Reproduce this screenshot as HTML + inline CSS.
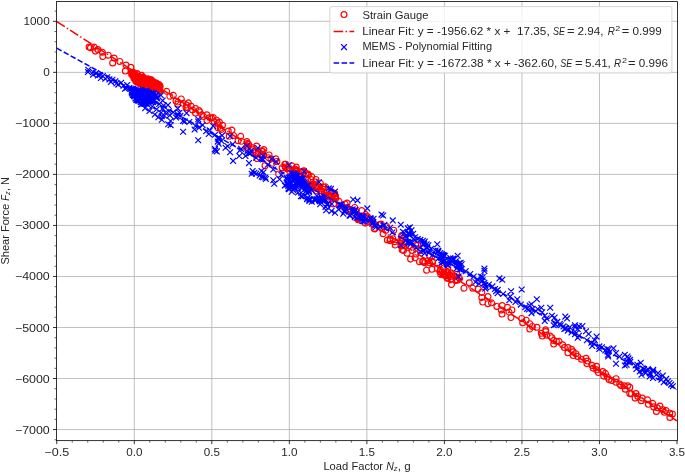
<!DOCTYPE html><html><head><meta charset="utf-8"><style>html,body{margin:0;padding:0;background:#fff;width:685px;height:473px;overflow:hidden}svg{display:block;will-change:transform}text{font-family:"Liberation Sans",sans-serif;fill:#262626;white-space:pre}</style></head><body>
<svg width="685" height="473" viewBox="0 0 685 473">
<g stroke="#b0b0b0" stroke-width="0.8">
<line x1="134.27" y1="1.6" x2="134.27" y2="440.65"/>
<line x1="211.81" y1="1.6" x2="211.81" y2="440.65"/>
<line x1="289.34" y1="1.6" x2="289.34" y2="440.65"/>
<line x1="366.88" y1="1.6" x2="366.88" y2="440.65"/>
<line x1="444.41" y1="1.6" x2="444.41" y2="440.65"/>
<line x1="521.94" y1="1.6" x2="521.94" y2="440.65"/>
<line x1="599.48" y1="1.6" x2="599.48" y2="440.65"/>
<line x1="56.5" y1="21.32" x2="677.4" y2="21.32"/>
<line x1="56.5" y1="72.35" x2="677.4" y2="72.35"/>
<line x1="56.5" y1="123.38" x2="677.4" y2="123.38"/>
<line x1="56.5" y1="174.41" x2="677.4" y2="174.41"/>
<line x1="56.5" y1="225.44" x2="677.4" y2="225.44"/>
<line x1="56.5" y1="276.47" x2="677.4" y2="276.47"/>
<line x1="56.5" y1="327.50" x2="677.4" y2="327.50"/>
<line x1="56.5" y1="378.53" x2="677.4" y2="378.53"/>
<line x1="56.5" y1="429.56" x2="677.4" y2="429.56"/>
</g>
<defs><clipPath id="ax"><rect x="56.5" y="1.5" width="620.5" height="439"/></clipPath></defs><g clip-path="url(#ax)">
<path d="M92.05 47.00a2.95 2.95 0 1 0 -5.9 0a2.95 2.95 0 1 0 5.9 0M93.45 47.80a2.95 2.95 0 1 0 -5.9 0a2.95 2.95 0 1 0 5.9 0M97.15 47.00a2.95 2.95 0 1 0 -5.9 0a2.95 2.95 0 1 0 5.9 0M98.35 51.10a2.95 2.95 0 1 0 -5.9 0a2.95 2.95 0 1 0 5.9 0M100.85 49.60a2.95 2.95 0 1 0 -5.9 0a2.95 2.95 0 1 0 5.9 0M105.35 52.20a2.95 2.95 0 1 0 -5.9 0a2.95 2.95 0 1 0 5.9 0M105.75 56.60a2.95 2.95 0 1 0 -5.9 0a2.95 2.95 0 1 0 5.9 0M111.25 55.20a2.95 2.95 0 1 0 -5.9 0a2.95 2.95 0 1 0 5.9 0M117.15 58.10a2.95 2.95 0 1 0 -5.9 0a2.95 2.95 0 1 0 5.9 0M115.65 62.90a2.95 2.95 0 1 0 -5.9 0a2.95 2.95 0 1 0 5.9 0M122.75 61.40a2.95 2.95 0 1 0 -5.9 0a2.95 2.95 0 1 0 5.9 0M128.95 65.10a2.95 2.95 0 1 0 -5.9 0a2.95 2.95 0 1 0 5.9 0M128.25 71.00a2.95 2.95 0 1 0 -5.9 0a2.95 2.95 0 1 0 5.9 0M133.85 67.40a2.95 2.95 0 1 0 -5.9 0a2.95 2.95 0 1 0 5.9 0M169.65 91.30a2.95 2.95 0 1 0 -5.9 0a2.95 2.95 0 1 0 5.9 0M172.75 96.20a2.95 2.95 0 1 0 -5.9 0a2.95 2.95 0 1 0 5.9 0M176.25 95.30a2.95 2.95 0 1 0 -5.9 0a2.95 2.95 0 1 0 5.9 0M178.95 101.10a2.95 2.95 0 1 0 -5.9 0a2.95 2.95 0 1 0 5.9 0M180.65 104.20a2.95 2.95 0 1 0 -5.9 0a2.95 2.95 0 1 0 5.9 0M184.25 98.90a2.95 2.95 0 1 0 -5.9 0a2.95 2.95 0 1 0 5.9 0M186.05 103.30a2.95 2.95 0 1 0 -5.9 0a2.95 2.95 0 1 0 5.9 0M189.55 105.10a2.95 2.95 0 1 0 -5.9 0a2.95 2.95 0 1 0 5.9 0M191.35 102.90a2.95 2.95 0 1 0 -5.9 0a2.95 2.95 0 1 0 5.9 0M190.45 107.70a2.95 2.95 0 1 0 -5.9 0a2.95 2.95 0 1 0 5.9 0M198.45 108.60a2.95 2.95 0 1 0 -5.9 0a2.95 2.95 0 1 0 5.9 0M198.45 113.10a2.95 2.95 0 1 0 -5.9 0a2.95 2.95 0 1 0 5.9 0M201.95 110.40a2.95 2.95 0 1 0 -5.9 0a2.95 2.95 0 1 0 5.9 0M204.65 114.80a2.95 2.95 0 1 0 -5.9 0a2.95 2.95 0 1 0 5.9 0M209.95 114.80a2.95 2.95 0 1 0 -5.9 0a2.95 2.95 0 1 0 5.9 0M212.65 117.50a2.95 2.95 0 1 0 -5.9 0a2.95 2.95 0 1 0 5.9 0M216.15 117.50a2.95 2.95 0 1 0 -5.9 0a2.95 2.95 0 1 0 5.9 0M219.75 120.20a2.95 2.95 0 1 0 -5.9 0a2.95 2.95 0 1 0 5.9 0M209.95 120.60a2.95 2.95 0 1 0 -5.9 0a2.95 2.95 0 1 0 5.9 0M214.45 118.00a2.95 2.95 0 1 0 -5.9 0a2.95 2.95 0 1 0 5.9 0M217.05 121.60a2.95 2.95 0 1 0 -5.9 0a2.95 2.95 0 1 0 5.9 0M220.65 127.70a2.95 2.95 0 1 0 -5.9 0a2.95 2.95 0 1 0 5.9 0M222.35 122.10a2.95 2.95 0 1 0 -5.9 0a2.95 2.95 0 1 0 5.9 0M225.45 125.20a2.95 2.95 0 1 0 -5.9 0a2.95 2.95 0 1 0 5.9 0M223.25 128.30a2.95 2.95 0 1 0 -5.9 0a2.95 2.95 0 1 0 5.9 0M231.25 131.00a2.95 2.95 0 1 0 -5.9 0a2.95 2.95 0 1 0 5.9 0M234.85 130.10a2.95 2.95 0 1 0 -5.9 0a2.95 2.95 0 1 0 5.9 0M232.15 136.30a2.95 2.95 0 1 0 -5.9 0a2.95 2.95 0 1 0 5.9 0M236.55 135.40a2.95 2.95 0 1 0 -5.9 0a2.95 2.95 0 1 0 5.9 0M243.65 136.30a2.95 2.95 0 1 0 -5.9 0a2.95 2.95 0 1 0 5.9 0M241.05 140.70a2.95 2.95 0 1 0 -5.9 0a2.95 2.95 0 1 0 5.9 0M249.85 141.60a2.95 2.95 0 1 0 -5.9 0a2.95 2.95 0 1 0 5.9 0M251.65 144.30a2.95 2.95 0 1 0 -5.9 0a2.95 2.95 0 1 0 5.9 0M249.05 147.80a2.95 2.95 0 1 0 -5.9 0a2.95 2.95 0 1 0 5.9 0M255.25 147.80a2.95 2.95 0 1 0 -5.9 0a2.95 2.95 0 1 0 5.9 0M259.65 146.10a2.95 2.95 0 1 0 -5.9 0a2.95 2.95 0 1 0 5.9 0M258.75 152.30a2.95 2.95 0 1 0 -5.9 0a2.95 2.95 0 1 0 5.9 0M265.85 151.40a2.95 2.95 0 1 0 -5.9 0a2.95 2.95 0 1 0 5.9 0M264.95 154.00a2.95 2.95 0 1 0 -5.9 0a2.95 2.95 0 1 0 5.9 0M272.05 154.90a2.95 2.95 0 1 0 -5.9 0a2.95 2.95 0 1 0 5.9 0M250.25 143.50a2.95 2.95 0 1 0 -5.9 0a2.95 2.95 0 1 0 5.9 0M257.35 151.50a2.95 2.95 0 1 0 -5.9 0a2.95 2.95 0 1 0 5.9 0M260.85 154.20a2.95 2.95 0 1 0 -5.9 0a2.95 2.95 0 1 0 5.9 0M259.95 158.60a2.95 2.95 0 1 0 -5.9 0a2.95 2.95 0 1 0 5.9 0M266.15 155.10a2.95 2.95 0 1 0 -5.9 0a2.95 2.95 0 1 0 5.9 0M267.95 165.70a2.95 2.95 0 1 0 -5.9 0a2.95 2.95 0 1 0 5.9 0M271.55 157.70a2.95 2.95 0 1 0 -5.9 0a2.95 2.95 0 1 0 5.9 0M278.95 158.90a2.95 2.95 0 1 0 -5.9 0a2.95 2.95 0 1 0 5.9 0M281.55 174.00a2.95 2.95 0 1 0 -5.9 0a2.95 2.95 0 1 0 5.9 0M288.65 164.20a2.95 2.95 0 1 0 -5.9 0a2.95 2.95 0 1 0 5.9 0M285.15 167.70a2.95 2.95 0 1 0 -5.9 0a2.95 2.95 0 1 0 5.9 0M275.35 163.30a2.95 2.95 0 1 0 -5.9 0a2.95 2.95 0 1 0 5.9 0M195.55 110.00a2.95 2.95 0 1 0 -5.9 0a2.95 2.95 0 1 0 5.9 0M202.95 112.00a2.95 2.95 0 1 0 -5.9 0a2.95 2.95 0 1 0 5.9 0M206.45 116.50a2.95 2.95 0 1 0 -5.9 0a2.95 2.95 0 1 0 5.9 0M180.95 102.00a2.95 2.95 0 1 0 -5.9 0a2.95 2.95 0 1 0 5.9 0M188.95 107.50a2.95 2.95 0 1 0 -5.9 0a2.95 2.95 0 1 0 5.9 0M193.95 106.00a2.95 2.95 0 1 0 -5.9 0a2.95 2.95 0 1 0 5.9 0M220.75 123.60a2.95 2.95 0 1 0 -5.9 0a2.95 2.95 0 1 0 5.9 0M224.25 129.50a2.95 2.95 0 1 0 -5.9 0a2.95 2.95 0 1 0 5.9 0M244.35 141.30a2.95 2.95 0 1 0 -5.9 0a2.95 2.95 0 1 0 5.9 0M250.25 146.00a2.95 2.95 0 1 0 -5.9 0a2.95 2.95 0 1 0 5.9 0M256.25 149.60a2.95 2.95 0 1 0 -5.9 0a2.95 2.95 0 1 0 5.9 0M264.45 150.80a2.95 2.95 0 1 0 -5.9 0a2.95 2.95 0 1 0 5.9 0M266.85 149.60a2.95 2.95 0 1 0 -5.9 0a2.95 2.95 0 1 0 5.9 0M273.95 159.10a2.95 2.95 0 1 0 -5.9 0a2.95 2.95 0 1 0 5.9 0M279.85 161.40a2.95 2.95 0 1 0 -5.9 0a2.95 2.95 0 1 0 5.9 0M334.75 196.00a2.95 2.95 0 1 0 -5.9 0a2.95 2.95 0 1 0 5.9 0M338.25 198.60a2.95 2.95 0 1 0 -5.9 0a2.95 2.95 0 1 0 5.9 0M336.45 204.00a2.95 2.95 0 1 0 -5.9 0a2.95 2.95 0 1 0 5.9 0M341.85 201.30a2.95 2.95 0 1 0 -5.9 0a2.95 2.95 0 1 0 5.9 0M348.05 204.00a2.95 2.95 0 1 0 -5.9 0a2.95 2.95 0 1 0 5.9 0M349.85 207.50a2.95 2.95 0 1 0 -5.9 0a2.95 2.95 0 1 0 5.9 0M353.35 209.30a2.95 2.95 0 1 0 -5.9 0a2.95 2.95 0 1 0 5.9 0M357.75 207.50a2.95 2.95 0 1 0 -5.9 0a2.95 2.95 0 1 0 5.9 0M358.65 211.10a2.95 2.95 0 1 0 -5.9 0a2.95 2.95 0 1 0 5.9 0M360.45 215.50a2.95 2.95 0 1 0 -5.9 0a2.95 2.95 0 1 0 5.9 0M370.25 216.40a2.95 2.95 0 1 0 -5.9 0a2.95 2.95 0 1 0 5.9 0M371.95 219.00a2.95 2.95 0 1 0 -5.9 0a2.95 2.95 0 1 0 5.9 0M364.05 220.80a2.95 2.95 0 1 0 -5.9 0a2.95 2.95 0 1 0 5.9 0M375.55 220.80a2.95 2.95 0 1 0 -5.9 0a2.95 2.95 0 1 0 5.9 0M377.15 228.40a2.95 2.95 0 1 0 -5.9 0a2.95 2.95 0 1 0 5.9 0M384.25 224.00a2.95 2.95 0 1 0 -5.9 0a2.95 2.95 0 1 0 5.9 0M386.05 233.70a2.95 2.95 0 1 0 -5.9 0a2.95 2.95 0 1 0 5.9 0M389.55 226.60a2.95 2.95 0 1 0 -5.9 0a2.95 2.95 0 1 0 5.9 0M396.65 230.20a2.95 2.95 0 1 0 -5.9 0a2.95 2.95 0 1 0 5.9 0M404.65 235.50a2.95 2.95 0 1 0 -5.9 0a2.95 2.95 0 1 0 5.9 0M393.15 239.00a2.95 2.95 0 1 0 -5.9 0a2.95 2.95 0 1 0 5.9 0M364.75 210.60a2.95 2.95 0 1 0 -5.9 0a2.95 2.95 0 1 0 5.9 0M368.25 223.10a2.95 2.95 0 1 0 -5.9 0a2.95 2.95 0 1 0 5.9 0M404.75 241.60a2.95 2.95 0 1 0 -5.9 0a2.95 2.95 0 1 0 5.9 0M406.45 250.50a2.95 2.95 0 1 0 -5.9 0a2.95 2.95 0 1 0 5.9 0M410.05 253.20a2.95 2.95 0 1 0 -5.9 0a2.95 2.95 0 1 0 5.9 0M411.85 246.10a2.95 2.95 0 1 0 -5.9 0a2.95 2.95 0 1 0 5.9 0M415.35 250.50a2.95 2.95 0 1 0 -5.9 0a2.95 2.95 0 1 0 5.9 0M418.95 254.00a2.95 2.95 0 1 0 -5.9 0a2.95 2.95 0 1 0 5.9 0M413.55 259.10a2.95 2.95 0 1 0 -5.9 0a2.95 2.95 0 1 0 5.9 0M418.05 257.70a2.95 2.95 0 1 0 -5.9 0a2.95 2.95 0 1 0 5.9 0M422.45 261.70a2.95 2.95 0 1 0 -5.9 0a2.95 2.95 0 1 0 5.9 0M429.55 270.20a2.95 2.95 0 1 0 -5.9 0a2.95 2.95 0 1 0 5.9 0M434.85 269.30a2.95 2.95 0 1 0 -5.9 0a2.95 2.95 0 1 0 5.9 0M440.25 268.40a2.95 2.95 0 1 0 -5.9 0a2.95 2.95 0 1 0 5.9 0M445.55 274.60a2.95 2.95 0 1 0 -5.9 0a2.95 2.95 0 1 0 5.9 0M426.05 261.30a2.95 2.95 0 1 0 -5.9 0a2.95 2.95 0 1 0 5.9 0M431.35 264.80a2.95 2.95 0 1 0 -5.9 0a2.95 2.95 0 1 0 5.9 0M454.45 284.60a2.95 2.95 0 1 0 -5.9 0a2.95 2.95 0 1 0 5.9 0M466.95 288.20a2.95 2.95 0 1 0 -5.9 0a2.95 2.95 0 1 0 5.9 0M472.25 282.80a2.95 2.95 0 1 0 -5.9 0a2.95 2.95 0 1 0 5.9 0M475.75 288.20a2.95 2.95 0 1 0 -5.9 0a2.95 2.95 0 1 0 5.9 0M481.15 289.00a2.95 2.95 0 1 0 -5.9 0a2.95 2.95 0 1 0 5.9 0M484.75 292.20a2.95 2.95 0 1 0 -5.9 0a2.95 2.95 0 1 0 5.9 0M484.75 297.50a2.95 2.95 0 1 0 -5.9 0a2.95 2.95 0 1 0 5.9 0M485.65 302.00a2.95 2.95 0 1 0 -5.9 0a2.95 2.95 0 1 0 5.9 0M490.95 296.60a2.95 2.95 0 1 0 -5.9 0a2.95 2.95 0 1 0 5.9 0M490.95 303.70a2.95 2.95 0 1 0 -5.9 0a2.95 2.95 0 1 0 5.9 0M494.45 302.80a2.95 2.95 0 1 0 -5.9 0a2.95 2.95 0 1 0 5.9 0M499.85 306.40a2.95 2.95 0 1 0 -5.9 0a2.95 2.95 0 1 0 5.9 0M505.15 305.50a2.95 2.95 0 1 0 -5.9 0a2.95 2.95 0 1 0 5.9 0M510.45 307.30a2.95 2.95 0 1 0 -5.9 0a2.95 2.95 0 1 0 5.9 0M514.85 309.90a2.95 2.95 0 1 0 -5.9 0a2.95 2.95 0 1 0 5.9 0M504.25 309.90a2.95 2.95 0 1 0 -5.9 0a2.95 2.95 0 1 0 5.9 0M504.95 314.00a2.95 2.95 0 1 0 -5.9 0a2.95 2.95 0 1 0 5.9 0M513.95 317.50a2.95 2.95 0 1 0 -5.9 0a2.95 2.95 0 1 0 5.9 0M511.95 312.00a2.95 2.95 0 1 0 -5.9 0a2.95 2.95 0 1 0 5.9 0M524.75 318.40a2.95 2.95 0 1 0 -5.9 0a2.95 2.95 0 1 0 5.9 0M525.65 322.80a2.95 2.95 0 1 0 -5.9 0a2.95 2.95 0 1 0 5.9 0M529.15 320.20a2.95 2.95 0 1 0 -5.9 0a2.95 2.95 0 1 0 5.9 0M532.75 323.70a2.95 2.95 0 1 0 -5.9 0a2.95 2.95 0 1 0 5.9 0M535.35 326.40a2.95 2.95 0 1 0 -5.9 0a2.95 2.95 0 1 0 5.9 0M539.85 327.30a2.95 2.95 0 1 0 -5.9 0a2.95 2.95 0 1 0 5.9 0M548.65 329.90a2.95 2.95 0 1 0 -5.9 0a2.95 2.95 0 1 0 5.9 0M532.75 329.00a2.95 2.95 0 1 0 -5.9 0a2.95 2.95 0 1 0 5.9 0M544.25 333.30a2.95 2.95 0 1 0 -5.9 0a2.95 2.95 0 1 0 5.9 0M545.15 336.00a2.95 2.95 0 1 0 -5.9 0a2.95 2.95 0 1 0 5.9 0M548.65 331.50a2.95 2.95 0 1 0 -5.9 0a2.95 2.95 0 1 0 5.9 0M549.55 335.10a2.95 2.95 0 1 0 -5.9 0a2.95 2.95 0 1 0 5.9 0M553.15 336.00a2.95 2.95 0 1 0 -5.9 0a2.95 2.95 0 1 0 5.9 0M554.85 337.70a2.95 2.95 0 1 0 -5.9 0a2.95 2.95 0 1 0 5.9 0M556.65 344.00a2.95 2.95 0 1 0 -5.9 0a2.95 2.95 0 1 0 5.9 0M559.35 341.30a2.95 2.95 0 1 0 -5.9 0a2.95 2.95 0 1 0 5.9 0M561.95 341.30a2.95 2.95 0 1 0 -5.9 0a2.95 2.95 0 1 0 5.9 0M565.55 344.80a2.95 2.95 0 1 0 -5.9 0a2.95 2.95 0 1 0 5.9 0M567.35 347.50a2.95 2.95 0 1 0 -5.9 0a2.95 2.95 0 1 0 5.9 0M570.85 352.80a2.95 2.95 0 1 0 -5.9 0a2.95 2.95 0 1 0 5.9 0M570.85 347.50a2.95 2.95 0 1 0 -5.9 0a2.95 2.95 0 1 0 5.9 0M574.45 349.30a2.95 2.95 0 1 0 -5.9 0a2.95 2.95 0 1 0 5.9 0M576.15 351.90a2.95 2.95 0 1 0 -5.9 0a2.95 2.95 0 1 0 5.9 0M578.85 353.70a2.95 2.95 0 1 0 -5.9 0a2.95 2.95 0 1 0 5.9 0M580.65 356.40a2.95 2.95 0 1 0 -5.9 0a2.95 2.95 0 1 0 5.9 0M576.15 355.50a2.95 2.95 0 1 0 -5.9 0a2.95 2.95 0 1 0 5.9 0M556.65 340.40a2.95 2.95 0 1 0 -5.9 0a2.95 2.95 0 1 0 5.9 0M584.45 359.20a2.95 2.95 0 1 0 -5.9 0a2.95 2.95 0 1 0 5.9 0M588.95 358.30a2.95 2.95 0 1 0 -5.9 0a2.95 2.95 0 1 0 5.9 0M590.65 361.00a2.95 2.95 0 1 0 -5.9 0a2.95 2.95 0 1 0 5.9 0M589.85 363.60a2.95 2.95 0 1 0 -5.9 0a2.95 2.95 0 1 0 5.9 0M595.15 365.40a2.95 2.95 0 1 0 -5.9 0a2.95 2.95 0 1 0 5.9 0M596.05 368.10a2.95 2.95 0 1 0 -5.9 0a2.95 2.95 0 1 0 5.9 0M599.55 366.30a2.95 2.95 0 1 0 -5.9 0a2.95 2.95 0 1 0 5.9 0M599.55 369.80a2.95 2.95 0 1 0 -5.9 0a2.95 2.95 0 1 0 5.9 0M601.35 372.50a2.95 2.95 0 1 0 -5.9 0a2.95 2.95 0 1 0 5.9 0M605.75 371.60a2.95 2.95 0 1 0 -5.9 0a2.95 2.95 0 1 0 5.9 0M606.65 376.10a2.95 2.95 0 1 0 -5.9 0a2.95 2.95 0 1 0 5.9 0M608.45 373.40a2.95 2.95 0 1 0 -5.9 0a2.95 2.95 0 1 0 5.9 0M610.25 377.00a2.95 2.95 0 1 0 -5.9 0a2.95 2.95 0 1 0 5.9 0M611.95 379.60a2.95 2.95 0 1 0 -5.9 0a2.95 2.95 0 1 0 5.9 0M614.65 380.50a2.95 2.95 0 1 0 -5.9 0a2.95 2.95 0 1 0 5.9 0M619.05 378.70a2.95 2.95 0 1 0 -5.9 0a2.95 2.95 0 1 0 5.9 0M619.05 382.30a2.95 2.95 0 1 0 -5.9 0a2.95 2.95 0 1 0 5.9 0M622.65 384.00a2.95 2.95 0 1 0 -5.9 0a2.95 2.95 0 1 0 5.9 0M627.05 385.80a2.95 2.95 0 1 0 -5.9 0a2.95 2.95 0 1 0 5.9 0M630.65 385.80a2.95 2.95 0 1 0 -5.9 0a2.95 2.95 0 1 0 5.9 0M623.85 385.60a2.95 2.95 0 1 0 -5.9 0a2.95 2.95 0 1 0 5.9 0M628.25 389.20a2.95 2.95 0 1 0 -5.9 0a2.95 2.95 0 1 0 5.9 0M632.75 387.40a2.95 2.95 0 1 0 -5.9 0a2.95 2.95 0 1 0 5.9 0M632.75 393.60a2.95 2.95 0 1 0 -5.9 0a2.95 2.95 0 1 0 5.9 0M638.95 393.60a2.95 2.95 0 1 0 -5.9 0a2.95 2.95 0 1 0 5.9 0M640.65 396.30a2.95 2.95 0 1 0 -5.9 0a2.95 2.95 0 1 0 5.9 0M638.05 398.10a2.95 2.95 0 1 0 -5.9 0a2.95 2.95 0 1 0 5.9 0M644.25 400.70a2.95 2.95 0 1 0 -5.9 0a2.95 2.95 0 1 0 5.9 0M645.15 398.10a2.95 2.95 0 1 0 -5.9 0a2.95 2.95 0 1 0 5.9 0M650.45 399.80a2.95 2.95 0 1 0 -5.9 0a2.95 2.95 0 1 0 5.9 0M651.35 404.30a2.95 2.95 0 1 0 -5.9 0a2.95 2.95 0 1 0 5.9 0M655.75 403.40a2.95 2.95 0 1 0 -5.9 0a2.95 2.95 0 1 0 5.9 0M656.65 406.90a2.95 2.95 0 1 0 -5.9 0a2.95 2.95 0 1 0 5.9 0M660.25 407.80a2.95 2.95 0 1 0 -5.9 0a2.95 2.95 0 1 0 5.9 0M662.85 406.10a2.95 2.95 0 1 0 -5.9 0a2.95 2.95 0 1 0 5.9 0M659.35 411.40a2.95 2.95 0 1 0 -5.9 0a2.95 2.95 0 1 0 5.9 0M665.55 409.60a2.95 2.95 0 1 0 -5.9 0a2.95 2.95 0 1 0 5.9 0M667.35 412.30a2.95 2.95 0 1 0 -5.9 0a2.95 2.95 0 1 0 5.9 0M669.05 410.50a2.95 2.95 0 1 0 -5.9 0a2.95 2.95 0 1 0 5.9 0M672.65 413.20a2.95 2.95 0 1 0 -5.9 0a2.95 2.95 0 1 0 5.9 0M675.35 414.00a2.95 2.95 0 1 0 -5.9 0a2.95 2.95 0 1 0 5.9 0M672.85 417.40a2.95 2.95 0 1 0 -5.9 0a2.95 2.95 0 1 0 5.9 0M634.45 393.70a2.95 2.95 0 1 0 -5.9 0a2.95 2.95 0 1 0 5.9 0M143.30 79.47a2.95 2.95 0 1 0 -5.9 0a2.95 2.95 0 1 0 5.9 0M156.56 81.76a2.95 2.95 0 1 0 -5.9 0a2.95 2.95 0 1 0 5.9 0M143.05 80.07a2.95 2.95 0 1 0 -5.9 0a2.95 2.95 0 1 0 5.9 0M137.97 79.06a2.95 2.95 0 1 0 -5.9 0a2.95 2.95 0 1 0 5.9 0M140.05 76.25a2.95 2.95 0 1 0 -5.9 0a2.95 2.95 0 1 0 5.9 0M162.80 85.50a2.95 2.95 0 1 0 -5.9 0a2.95 2.95 0 1 0 5.9 0M152.65 86.53a2.95 2.95 0 1 0 -5.9 0a2.95 2.95 0 1 0 5.9 0M153.19 88.05a2.95 2.95 0 1 0 -5.9 0a2.95 2.95 0 1 0 5.9 0M149.28 86.06a2.95 2.95 0 1 0 -5.9 0a2.95 2.95 0 1 0 5.9 0M154.45 86.74a2.95 2.95 0 1 0 -5.9 0a2.95 2.95 0 1 0 5.9 0M159.61 88.23a2.95 2.95 0 1 0 -5.9 0a2.95 2.95 0 1 0 5.9 0M153.32 85.40a2.95 2.95 0 1 0 -5.9 0a2.95 2.95 0 1 0 5.9 0M138.47 80.64a2.95 2.95 0 1 0 -5.9 0a2.95 2.95 0 1 0 5.9 0M158.75 88.71a2.95 2.95 0 1 0 -5.9 0a2.95 2.95 0 1 0 5.9 0M145.20 77.33a2.95 2.95 0 1 0 -5.9 0a2.95 2.95 0 1 0 5.9 0M141.82 79.42a2.95 2.95 0 1 0 -5.9 0a2.95 2.95 0 1 0 5.9 0M153.57 79.62a2.95 2.95 0 1 0 -5.9 0a2.95 2.95 0 1 0 5.9 0M159.97 83.64a2.95 2.95 0 1 0 -5.9 0a2.95 2.95 0 1 0 5.9 0M145.24 79.42a2.95 2.95 0 1 0 -5.9 0a2.95 2.95 0 1 0 5.9 0M153.90 80.12a2.95 2.95 0 1 0 -5.9 0a2.95 2.95 0 1 0 5.9 0M147.40 78.35a2.95 2.95 0 1 0 -5.9 0a2.95 2.95 0 1 0 5.9 0M137.24 75.06a2.95 2.95 0 1 0 -5.9 0a2.95 2.95 0 1 0 5.9 0M142.46 77.28a2.95 2.95 0 1 0 -5.9 0a2.95 2.95 0 1 0 5.9 0M143.34 82.53a2.95 2.95 0 1 0 -5.9 0a2.95 2.95 0 1 0 5.9 0M163.10 86.49a2.95 2.95 0 1 0 -5.9 0a2.95 2.95 0 1 0 5.9 0M157.68 86.19a2.95 2.95 0 1 0 -5.9 0a2.95 2.95 0 1 0 5.9 0M154.64 81.01a2.95 2.95 0 1 0 -5.9 0a2.95 2.95 0 1 0 5.9 0M140.33 73.65a2.95 2.95 0 1 0 -5.9 0a2.95 2.95 0 1 0 5.9 0M139.58 78.85a2.95 2.95 0 1 0 -5.9 0a2.95 2.95 0 1 0 5.9 0M152.71 84.87a2.95 2.95 0 1 0 -5.9 0a2.95 2.95 0 1 0 5.9 0M145.39 81.08a2.95 2.95 0 1 0 -5.9 0a2.95 2.95 0 1 0 5.9 0M159.42 83.11a2.95 2.95 0 1 0 -5.9 0a2.95 2.95 0 1 0 5.9 0M158.13 83.61a2.95 2.95 0 1 0 -5.9 0a2.95 2.95 0 1 0 5.9 0M145.11 80.54a2.95 2.95 0 1 0 -5.9 0a2.95 2.95 0 1 0 5.9 0M137.78 75.45a2.95 2.95 0 1 0 -5.9 0a2.95 2.95 0 1 0 5.9 0M150.81 78.76a2.95 2.95 0 1 0 -5.9 0a2.95 2.95 0 1 0 5.9 0M157.70 83.10a2.95 2.95 0 1 0 -5.9 0a2.95 2.95 0 1 0 5.9 0M159.79 85.65a2.95 2.95 0 1 0 -5.9 0a2.95 2.95 0 1 0 5.9 0M150.15 86.48a2.95 2.95 0 1 0 -5.9 0a2.95 2.95 0 1 0 5.9 0M149.83 83.23a2.95 2.95 0 1 0 -5.9 0a2.95 2.95 0 1 0 5.9 0M134.97 74.74a2.95 2.95 0 1 0 -5.9 0a2.95 2.95 0 1 0 5.9 0M154.19 82.41a2.95 2.95 0 1 0 -5.9 0a2.95 2.95 0 1 0 5.9 0M138.58 81.21a2.95 2.95 0 1 0 -5.9 0a2.95 2.95 0 1 0 5.9 0M135.33 74.50a2.95 2.95 0 1 0 -5.9 0a2.95 2.95 0 1 0 5.9 0M139.70 81.74a2.95 2.95 0 1 0 -5.9 0a2.95 2.95 0 1 0 5.9 0M162.57 86.93a2.95 2.95 0 1 0 -5.9 0a2.95 2.95 0 1 0 5.9 0M154.10 87.90a2.95 2.95 0 1 0 -5.9 0a2.95 2.95 0 1 0 5.9 0M137.49 78.21a2.95 2.95 0 1 0 -5.9 0a2.95 2.95 0 1 0 5.9 0M141.76 76.29a2.95 2.95 0 1 0 -5.9 0a2.95 2.95 0 1 0 5.9 0M156.18 84.01a2.95 2.95 0 1 0 -5.9 0a2.95 2.95 0 1 0 5.9 0M146.83 84.70a2.95 2.95 0 1 0 -5.9 0a2.95 2.95 0 1 0 5.9 0M138.64 78.71a2.95 2.95 0 1 0 -5.9 0a2.95 2.95 0 1 0 5.9 0M134.55 72.64a2.95 2.95 0 1 0 -5.9 0a2.95 2.95 0 1 0 5.9 0M140.44 79.29a2.95 2.95 0 1 0 -5.9 0a2.95 2.95 0 1 0 5.9 0M137.92 78.73a2.95 2.95 0 1 0 -5.9 0a2.95 2.95 0 1 0 5.9 0M137.45 73.26a2.95 2.95 0 1 0 -5.9 0a2.95 2.95 0 1 0 5.9 0M152.90 83.33a2.95 2.95 0 1 0 -5.9 0a2.95 2.95 0 1 0 5.9 0M157.55 89.31a2.95 2.95 0 1 0 -5.9 0a2.95 2.95 0 1 0 5.9 0M154.06 84.86a2.95 2.95 0 1 0 -5.9 0a2.95 2.95 0 1 0 5.9 0M135.91 74.32a2.95 2.95 0 1 0 -5.9 0a2.95 2.95 0 1 0 5.9 0M142.26 82.01a2.95 2.95 0 1 0 -5.9 0a2.95 2.95 0 1 0 5.9 0M150.67 80.98a2.95 2.95 0 1 0 -5.9 0a2.95 2.95 0 1 0 5.9 0M146.68 82.51a2.95 2.95 0 1 0 -5.9 0a2.95 2.95 0 1 0 5.9 0M145.52 82.21a2.95 2.95 0 1 0 -5.9 0a2.95 2.95 0 1 0 5.9 0M153.42 82.70a2.95 2.95 0 1 0 -5.9 0a2.95 2.95 0 1 0 5.9 0M135.91 72.04a2.95 2.95 0 1 0 -5.9 0a2.95 2.95 0 1 0 5.9 0M140.29 73.76a2.95 2.95 0 1 0 -5.9 0a2.95 2.95 0 1 0 5.9 0M136.00 72.60a2.95 2.95 0 1 0 -5.9 0a2.95 2.95 0 1 0 5.9 0M142.10 82.53a2.95 2.95 0 1 0 -5.9 0a2.95 2.95 0 1 0 5.9 0M158.14 87.63a2.95 2.95 0 1 0 -5.9 0a2.95 2.95 0 1 0 5.9 0M139.85 75.87a2.95 2.95 0 1 0 -5.9 0a2.95 2.95 0 1 0 5.9 0M148.77 81.44a2.95 2.95 0 1 0 -5.9 0a2.95 2.95 0 1 0 5.9 0M148.32 81.82a2.95 2.95 0 1 0 -5.9 0a2.95 2.95 0 1 0 5.9 0M139.18 80.70a2.95 2.95 0 1 0 -5.9 0a2.95 2.95 0 1 0 5.9 0M145.24 83.46a2.95 2.95 0 1 0 -5.9 0a2.95 2.95 0 1 0 5.9 0M158.78 87.25a2.95 2.95 0 1 0 -5.9 0a2.95 2.95 0 1 0 5.9 0M161.67 84.29a2.95 2.95 0 1 0 -5.9 0a2.95 2.95 0 1 0 5.9 0M138.77 79.84a2.95 2.95 0 1 0 -5.9 0a2.95 2.95 0 1 0 5.9 0M147.13 83.65a2.95 2.95 0 1 0 -5.9 0a2.95 2.95 0 1 0 5.9 0M145.38 84.51a2.95 2.95 0 1 0 -5.9 0a2.95 2.95 0 1 0 5.9 0M140.07 78.07a2.95 2.95 0 1 0 -5.9 0a2.95 2.95 0 1 0 5.9 0M150.25 79.55a2.95 2.95 0 1 0 -5.9 0a2.95 2.95 0 1 0 5.9 0M154.69 87.66a2.95 2.95 0 1 0 -5.9 0a2.95 2.95 0 1 0 5.9 0M139.87 80.54a2.95 2.95 0 1 0 -5.9 0a2.95 2.95 0 1 0 5.9 0M145.53 83.28a2.95 2.95 0 1 0 -5.9 0a2.95 2.95 0 1 0 5.9 0M148.25 83.79a2.95 2.95 0 1 0 -5.9 0a2.95 2.95 0 1 0 5.9 0M146.13 77.00a2.95 2.95 0 1 0 -5.9 0a2.95 2.95 0 1 0 5.9 0M142.15 76.73a2.95 2.95 0 1 0 -5.9 0a2.95 2.95 0 1 0 5.9 0M162.36 90.23a2.95 2.95 0 1 0 -5.9 0a2.95 2.95 0 1 0 5.9 0M143.61 81.83a2.95 2.95 0 1 0 -5.9 0a2.95 2.95 0 1 0 5.9 0M145.98 78.02a2.95 2.95 0 1 0 -5.9 0a2.95 2.95 0 1 0 5.9 0M136.70 75.20a2.95 2.95 0 1 0 -5.9 0a2.95 2.95 0 1 0 5.9 0M154.39 79.80a2.95 2.95 0 1 0 -5.9 0a2.95 2.95 0 1 0 5.9 0M146.44 85.17a2.95 2.95 0 1 0 -5.9 0a2.95 2.95 0 1 0 5.9 0M143.20 81.27a2.95 2.95 0 1 0 -5.9 0a2.95 2.95 0 1 0 5.9 0M141.77 78.83a2.95 2.95 0 1 0 -5.9 0a2.95 2.95 0 1 0 5.9 0M142.24 79.41a2.95 2.95 0 1 0 -5.9 0a2.95 2.95 0 1 0 5.9 0M153.24 82.25a2.95 2.95 0 1 0 -5.9 0a2.95 2.95 0 1 0 5.9 0M137.07 78.87a2.95 2.95 0 1 0 -5.9 0a2.95 2.95 0 1 0 5.9 0M155.43 82.13a2.95 2.95 0 1 0 -5.9 0a2.95 2.95 0 1 0 5.9 0M143.33 78.22a2.95 2.95 0 1 0 -5.9 0a2.95 2.95 0 1 0 5.9 0M162.88 86.26a2.95 2.95 0 1 0 -5.9 0a2.95 2.95 0 1 0 5.9 0M155.23 85.46a2.95 2.95 0 1 0 -5.9 0a2.95 2.95 0 1 0 5.9 0M152.75 87.06a2.95 2.95 0 1 0 -5.9 0a2.95 2.95 0 1 0 5.9 0M160.60 89.12a2.95 2.95 0 1 0 -5.9 0a2.95 2.95 0 1 0 5.9 0M145.24 80.13a2.95 2.95 0 1 0 -5.9 0a2.95 2.95 0 1 0 5.9 0M134.56 74.30a2.95 2.95 0 1 0 -5.9 0a2.95 2.95 0 1 0 5.9 0M143.28 81.64a2.95 2.95 0 1 0 -5.9 0a2.95 2.95 0 1 0 5.9 0M140.17 82.23a2.95 2.95 0 1 0 -5.9 0a2.95 2.95 0 1 0 5.9 0M157.70 84.51a2.95 2.95 0 1 0 -5.9 0a2.95 2.95 0 1 0 5.9 0M136.47 77.25a2.95 2.95 0 1 0 -5.9 0a2.95 2.95 0 1 0 5.9 0M145.06 77.54a2.95 2.95 0 1 0 -5.9 0a2.95 2.95 0 1 0 5.9 0M154.76 81.77a2.95 2.95 0 1 0 -5.9 0a2.95 2.95 0 1 0 5.9 0M160.58 85.67a2.95 2.95 0 1 0 -5.9 0a2.95 2.95 0 1 0 5.9 0M146.19 80.70a2.95 2.95 0 1 0 -5.9 0a2.95 2.95 0 1 0 5.9 0M138.09 79.48a2.95 2.95 0 1 0 -5.9 0a2.95 2.95 0 1 0 5.9 0M150.00 79.72a2.95 2.95 0 1 0 -5.9 0a2.95 2.95 0 1 0 5.9 0M151.89 80.98a2.95 2.95 0 1 0 -5.9 0a2.95 2.95 0 1 0 5.9 0M146.36 84.74a2.95 2.95 0 1 0 -5.9 0a2.95 2.95 0 1 0 5.9 0M143.83 83.14a2.95 2.95 0 1 0 -5.9 0a2.95 2.95 0 1 0 5.9 0M162.93 90.85a2.95 2.95 0 1 0 -5.9 0a2.95 2.95 0 1 0 5.9 0M162.01 89.04a2.95 2.95 0 1 0 -5.9 0a2.95 2.95 0 1 0 5.9 0M155.40 84.51a2.95 2.95 0 1 0 -5.9 0a2.95 2.95 0 1 0 5.9 0M155.54 82.50a2.95 2.95 0 1 0 -5.9 0a2.95 2.95 0 1 0 5.9 0M161.20 86.10a2.95 2.95 0 1 0 -5.9 0a2.95 2.95 0 1 0 5.9 0M142.96 83.71a2.95 2.95 0 1 0 -5.9 0a2.95 2.95 0 1 0 5.9 0M144.63 75.28a2.95 2.95 0 1 0 -5.9 0a2.95 2.95 0 1 0 5.9 0M136.18 72.38a2.95 2.95 0 1 0 -5.9 0a2.95 2.95 0 1 0 5.9 0M149.70 81.85a2.95 2.95 0 1 0 -5.9 0a2.95 2.95 0 1 0 5.9 0M145.46 81.08a2.95 2.95 0 1 0 -5.9 0a2.95 2.95 0 1 0 5.9 0M314.70 176.63a2.95 2.95 0 1 0 -5.9 0a2.95 2.95 0 1 0 5.9 0M331.86 196.85a2.95 2.95 0 1 0 -5.9 0a2.95 2.95 0 1 0 5.9 0M324.75 193.73a2.95 2.95 0 1 0 -5.9 0a2.95 2.95 0 1 0 5.9 0M304.57 177.22a2.95 2.95 0 1 0 -5.9 0a2.95 2.95 0 1 0 5.9 0M297.94 169.02a2.95 2.95 0 1 0 -5.9 0a2.95 2.95 0 1 0 5.9 0M331.61 197.10a2.95 2.95 0 1 0 -5.9 0a2.95 2.95 0 1 0 5.9 0M296.53 173.56a2.95 2.95 0 1 0 -5.9 0a2.95 2.95 0 1 0 5.9 0M314.04 179.46a2.95 2.95 0 1 0 -5.9 0a2.95 2.95 0 1 0 5.9 0M311.16 173.97a2.95 2.95 0 1 0 -5.9 0a2.95 2.95 0 1 0 5.9 0M328.30 195.97a2.95 2.95 0 1 0 -5.9 0a2.95 2.95 0 1 0 5.9 0M299.29 167.10a2.95 2.95 0 1 0 -5.9 0a2.95 2.95 0 1 0 5.9 0M329.52 191.71a2.95 2.95 0 1 0 -5.9 0a2.95 2.95 0 1 0 5.9 0M298.87 173.90a2.95 2.95 0 1 0 -5.9 0a2.95 2.95 0 1 0 5.9 0M317.92 186.68a2.95 2.95 0 1 0 -5.9 0a2.95 2.95 0 1 0 5.9 0M308.78 173.31a2.95 2.95 0 1 0 -5.9 0a2.95 2.95 0 1 0 5.9 0M308.88 173.11a2.95 2.95 0 1 0 -5.9 0a2.95 2.95 0 1 0 5.9 0M287.82 164.33a2.95 2.95 0 1 0 -5.9 0a2.95 2.95 0 1 0 5.9 0M303.64 174.79a2.95 2.95 0 1 0 -5.9 0a2.95 2.95 0 1 0 5.9 0M301.72 177.33a2.95 2.95 0 1 0 -5.9 0a2.95 2.95 0 1 0 5.9 0M294.86 165.78a2.95 2.95 0 1 0 -5.9 0a2.95 2.95 0 1 0 5.9 0M332.12 195.13a2.95 2.95 0 1 0 -5.9 0a2.95 2.95 0 1 0 5.9 0M323.68 190.93a2.95 2.95 0 1 0 -5.9 0a2.95 2.95 0 1 0 5.9 0M290.09 168.11a2.95 2.95 0 1 0 -5.9 0a2.95 2.95 0 1 0 5.9 0M325.72 189.11a2.95 2.95 0 1 0 -5.9 0a2.95 2.95 0 1 0 5.9 0M314.75 186.11a2.95 2.95 0 1 0 -5.9 0a2.95 2.95 0 1 0 5.9 0M318.90 190.83a2.95 2.95 0 1 0 -5.9 0a2.95 2.95 0 1 0 5.9 0M328.41 186.77a2.95 2.95 0 1 0 -5.9 0a2.95 2.95 0 1 0 5.9 0M289.73 168.78a2.95 2.95 0 1 0 -5.9 0a2.95 2.95 0 1 0 5.9 0M337.51 196.79a2.95 2.95 0 1 0 -5.9 0a2.95 2.95 0 1 0 5.9 0M335.30 192.28a2.95 2.95 0 1 0 -5.9 0a2.95 2.95 0 1 0 5.9 0M302.25 175.85a2.95 2.95 0 1 0 -5.9 0a2.95 2.95 0 1 0 5.9 0M306.98 170.80a2.95 2.95 0 1 0 -5.9 0a2.95 2.95 0 1 0 5.9 0M337.46 194.00a2.95 2.95 0 1 0 -5.9 0a2.95 2.95 0 1 0 5.9 0M335.43 198.21a2.95 2.95 0 1 0 -5.9 0a2.95 2.95 0 1 0 5.9 0M330.41 190.44a2.95 2.95 0 1 0 -5.9 0a2.95 2.95 0 1 0 5.9 0M309.03 173.50a2.95 2.95 0 1 0 -5.9 0a2.95 2.95 0 1 0 5.9 0M321.63 187.24a2.95 2.95 0 1 0 -5.9 0a2.95 2.95 0 1 0 5.9 0M324.44 191.07a2.95 2.95 0 1 0 -5.9 0a2.95 2.95 0 1 0 5.9 0M295.54 173.65a2.95 2.95 0 1 0 -5.9 0a2.95 2.95 0 1 0 5.9 0M288.16 167.00a2.95 2.95 0 1 0 -5.9 0a2.95 2.95 0 1 0 5.9 0M331.25 194.90a2.95 2.95 0 1 0 -5.9 0a2.95 2.95 0 1 0 5.9 0M300.02 170.13a2.95 2.95 0 1 0 -5.9 0a2.95 2.95 0 1 0 5.9 0M298.92 171.05a2.95 2.95 0 1 0 -5.9 0a2.95 2.95 0 1 0 5.9 0M298.67 175.29a2.95 2.95 0 1 0 -5.9 0a2.95 2.95 0 1 0 5.9 0M301.83 180.34a2.95 2.95 0 1 0 -5.9 0a2.95 2.95 0 1 0 5.9 0M319.20 188.28a2.95 2.95 0 1 0 -5.9 0a2.95 2.95 0 1 0 5.9 0M314.79 187.37a2.95 2.95 0 1 0 -5.9 0a2.95 2.95 0 1 0 5.9 0M292.04 167.67a2.95 2.95 0 1 0 -5.9 0a2.95 2.95 0 1 0 5.9 0M337.65 193.39a2.95 2.95 0 1 0 -5.9 0a2.95 2.95 0 1 0 5.9 0M325.92 186.74a2.95 2.95 0 1 0 -5.9 0a2.95 2.95 0 1 0 5.9 0M315.62 188.14a2.95 2.95 0 1 0 -5.9 0a2.95 2.95 0 1 0 5.9 0M296.29 174.70a2.95 2.95 0 1 0 -5.9 0a2.95 2.95 0 1 0 5.9 0M334.82 191.91a2.95 2.95 0 1 0 -5.9 0a2.95 2.95 0 1 0 5.9 0M292.26 170.99a2.95 2.95 0 1 0 -5.9 0a2.95 2.95 0 1 0 5.9 0M303.65 180.13a2.95 2.95 0 1 0 -5.9 0a2.95 2.95 0 1 0 5.9 0M311.43 175.02a2.95 2.95 0 1 0 -5.9 0a2.95 2.95 0 1 0 5.9 0M318.62 181.94a2.95 2.95 0 1 0 -5.9 0a2.95 2.95 0 1 0 5.9 0M317.49 184.33a2.95 2.95 0 1 0 -5.9 0a2.95 2.95 0 1 0 5.9 0M338.43 195.76a2.95 2.95 0 1 0 -5.9 0a2.95 2.95 0 1 0 5.9 0M338.91 198.28a2.95 2.95 0 1 0 -5.9 0a2.95 2.95 0 1 0 5.9 0M310.04 185.24a2.95 2.95 0 1 0 -5.9 0a2.95 2.95 0 1 0 5.9 0M305.29 182.12a2.95 2.95 0 1 0 -5.9 0a2.95 2.95 0 1 0 5.9 0M327.02 192.14a2.95 2.95 0 1 0 -5.9 0a2.95 2.95 0 1 0 5.9 0M313.89 183.90a2.95 2.95 0 1 0 -5.9 0a2.95 2.95 0 1 0 5.9 0M297.32 174.79a2.95 2.95 0 1 0 -5.9 0a2.95 2.95 0 1 0 5.9 0M299.38 171.41a2.95 2.95 0 1 0 -5.9 0a2.95 2.95 0 1 0 5.9 0M338.19 196.46a2.95 2.95 0 1 0 -5.9 0a2.95 2.95 0 1 0 5.9 0M318.78 179.43a2.95 2.95 0 1 0 -5.9 0a2.95 2.95 0 1 0 5.9 0M311.01 184.32a2.95 2.95 0 1 0 -5.9 0a2.95 2.95 0 1 0 5.9 0M305.21 171.27a2.95 2.95 0 1 0 -5.9 0a2.95 2.95 0 1 0 5.9 0M323.30 183.17a2.95 2.95 0 1 0 -5.9 0a2.95 2.95 0 1 0 5.9 0M310.52 180.26a2.95 2.95 0 1 0 -5.9 0a2.95 2.95 0 1 0 5.9 0M298.32 177.92a2.95 2.95 0 1 0 -5.9 0a2.95 2.95 0 1 0 5.9 0M318.92 186.26a2.95 2.95 0 1 0 -5.9 0a2.95 2.95 0 1 0 5.9 0M304.22 171.99a2.95 2.95 0 1 0 -5.9 0a2.95 2.95 0 1 0 5.9 0M382.20 224.59a2.95 2.95 0 1 0 -5.9 0a2.95 2.95 0 1 0 5.9 0M423.03 250.57a2.95 2.95 0 1 0 -5.9 0a2.95 2.95 0 1 0 5.9 0M420.56 245.08a2.95 2.95 0 1 0 -5.9 0a2.95 2.95 0 1 0 5.9 0M361.16 219.79a2.95 2.95 0 1 0 -5.9 0a2.95 2.95 0 1 0 5.9 0M425.58 261.71a2.95 2.95 0 1 0 -5.9 0a2.95 2.95 0 1 0 5.9 0M368.55 214.51a2.95 2.95 0 1 0 -5.9 0a2.95 2.95 0 1 0 5.9 0M377.76 229.04a2.95 2.95 0 1 0 -5.9 0a2.95 2.95 0 1 0 5.9 0M351.61 209.70a2.95 2.95 0 1 0 -5.9 0a2.95 2.95 0 1 0 5.9 0M403.89 239.74a2.95 2.95 0 1 0 -5.9 0a2.95 2.95 0 1 0 5.9 0M432.58 256.23a2.95 2.95 0 1 0 -5.9 0a2.95 2.95 0 1 0 5.9 0M370.82 217.01a2.95 2.95 0 1 0 -5.9 0a2.95 2.95 0 1 0 5.9 0M360.77 216.99a2.95 2.95 0 1 0 -5.9 0a2.95 2.95 0 1 0 5.9 0M388.97 230.28a2.95 2.95 0 1 0 -5.9 0a2.95 2.95 0 1 0 5.9 0M397.70 241.66a2.95 2.95 0 1 0 -5.9 0a2.95 2.95 0 1 0 5.9 0M427.68 262.65a2.95 2.95 0 1 0 -5.9 0a2.95 2.95 0 1 0 5.9 0M398.14 245.00a2.95 2.95 0 1 0 -5.9 0a2.95 2.95 0 1 0 5.9 0M432.49 262.81a2.95 2.95 0 1 0 -5.9 0a2.95 2.95 0 1 0 5.9 0M390.29 240.00a2.95 2.95 0 1 0 -5.9 0a2.95 2.95 0 1 0 5.9 0M404.66 246.01a2.95 2.95 0 1 0 -5.9 0a2.95 2.95 0 1 0 5.9 0M370.30 222.31a2.95 2.95 0 1 0 -5.9 0a2.95 2.95 0 1 0 5.9 0M375.88 223.65a2.95 2.95 0 1 0 -5.9 0a2.95 2.95 0 1 0 5.9 0M415.13 250.53a2.95 2.95 0 1 0 -5.9 0a2.95 2.95 0 1 0 5.9 0M435.57 262.25a2.95 2.95 0 1 0 -5.9 0a2.95 2.95 0 1 0 5.9 0M385.11 228.74a2.95 2.95 0 1 0 -5.9 0a2.95 2.95 0 1 0 5.9 0M430.79 260.67a2.95 2.95 0 1 0 -5.9 0a2.95 2.95 0 1 0 5.9 0M404.91 235.63a2.95 2.95 0 1 0 -5.9 0a2.95 2.95 0 1 0 5.9 0M362.00 218.86a2.95 2.95 0 1 0 -5.9 0a2.95 2.95 0 1 0 5.9 0M425.96 260.98a2.95 2.95 0 1 0 -5.9 0a2.95 2.95 0 1 0 5.9 0M349.96 203.11a2.95 2.95 0 1 0 -5.9 0a2.95 2.95 0 1 0 5.9 0M404.01 243.26a2.95 2.95 0 1 0 -5.9 0a2.95 2.95 0 1 0 5.9 0M418.84 245.42a2.95 2.95 0 1 0 -5.9 0a2.95 2.95 0 1 0 5.9 0M405.42 238.50a2.95 2.95 0 1 0 -5.9 0a2.95 2.95 0 1 0 5.9 0M395.93 238.65a2.95 2.95 0 1 0 -5.9 0a2.95 2.95 0 1 0 5.9 0M435.31 261.24a2.95 2.95 0 1 0 -5.9 0a2.95 2.95 0 1 0 5.9 0M376.39 223.91a2.95 2.95 0 1 0 -5.9 0a2.95 2.95 0 1 0 5.9 0M405.07 249.84a2.95 2.95 0 1 0 -5.9 0a2.95 2.95 0 1 0 5.9 0M355.46 214.21a2.95 2.95 0 1 0 -5.9 0a2.95 2.95 0 1 0 5.9 0M365.81 216.88a2.95 2.95 0 1 0 -5.9 0a2.95 2.95 0 1 0 5.9 0M342.77 205.18a2.95 2.95 0 1 0 -5.9 0a2.95 2.95 0 1 0 5.9 0M392.83 240.64a2.95 2.95 0 1 0 -5.9 0a2.95 2.95 0 1 0 5.9 0M460.13 280.32a2.95 2.95 0 1 0 -5.9 0a2.95 2.95 0 1 0 5.9 0M450.18 278.36a2.95 2.95 0 1 0 -5.9 0a2.95 2.95 0 1 0 5.9 0M450.27 271.56a2.95 2.95 0 1 0 -5.9 0a2.95 2.95 0 1 0 5.9 0M448.68 275.70a2.95 2.95 0 1 0 -5.9 0a2.95 2.95 0 1 0 5.9 0M446.83 274.27a2.95 2.95 0 1 0 -5.9 0a2.95 2.95 0 1 0 5.9 0M459.88 274.37a2.95 2.95 0 1 0 -5.9 0a2.95 2.95 0 1 0 5.9 0M450.42 273.13a2.95 2.95 0 1 0 -5.9 0a2.95 2.95 0 1 0 5.9 0M458.99 280.47a2.95 2.95 0 1 0 -5.9 0a2.95 2.95 0 1 0 5.9 0M446.60 268.04a2.95 2.95 0 1 0 -5.9 0a2.95 2.95 0 1 0 5.9 0M458.08 276.16a2.95 2.95 0 1 0 -5.9 0a2.95 2.95 0 1 0 5.9 0M451.22 275.71a2.95 2.95 0 1 0 -5.9 0a2.95 2.95 0 1 0 5.9 0M462.67 278.63a2.95 2.95 0 1 0 -5.9 0a2.95 2.95 0 1 0 5.9 0M454.02 279.63a2.95 2.95 0 1 0 -5.9 0a2.95 2.95 0 1 0 5.9 0M461.95 277.57a2.95 2.95 0 1 0 -5.9 0a2.95 2.95 0 1 0 5.9 0M443.68 274.43a2.95 2.95 0 1 0 -5.9 0a2.95 2.95 0 1 0 5.9 0M454.92 279.19a2.95 2.95 0 1 0 -5.9 0a2.95 2.95 0 1 0 5.9 0M452.82 275.19a2.95 2.95 0 1 0 -5.9 0a2.95 2.95 0 1 0 5.9 0M443.41 269.83a2.95 2.95 0 1 0 -5.9 0a2.95 2.95 0 1 0 5.9 0M454.11 272.83a2.95 2.95 0 1 0 -5.9 0a2.95 2.95 0 1 0 5.9 0M459.26 279.66a2.95 2.95 0 1 0 -5.9 0a2.95 2.95 0 1 0 5.9 0M455.30 274.80a2.95 2.95 0 1 0 -5.9 0a2.95 2.95 0 1 0 5.9 0M447.83 274.09a2.95 2.95 0 1 0 -5.9 0a2.95 2.95 0 1 0 5.9 0M450.90 278.10a2.95 2.95 0 1 0 -5.9 0a2.95 2.95 0 1 0 5.9 0M442.88 271.51a2.95 2.95 0 1 0 -5.9 0a2.95 2.95 0 1 0 5.9 0M451.13 274.96a2.95 2.95 0 1 0 -5.9 0a2.95 2.95 0 1 0 5.9 0M448.90 276.08a2.95 2.95 0 1 0 -5.9 0a2.95 2.95 0 1 0 5.9 0M445.76 273.65a2.95 2.95 0 1 0 -5.9 0a2.95 2.95 0 1 0 5.9 0M448.30 275.36a2.95 2.95 0 1 0 -5.9 0a2.95 2.95 0 1 0 5.9 0M454.30 276.29a2.95 2.95 0 1 0 -5.9 0a2.95 2.95 0 1 0 5.9 0M450.83 269.50a2.95 2.95 0 1 0 -5.9 0a2.95 2.95 0 1 0 5.9 0" fill="none" stroke="#f00" stroke-width="1.15"/>
<line x1="56.74" y1="21.54" x2="677.01" y2="420.93" stroke="#f00" stroke-width="1.5" stroke-dasharray="9.6 2.4 1.5 2.4"/>
<path d="M85.10 69.10l5.8 5.8M85.10 74.90l5.8 -5.8M85.40 66.90l5.8 5.8M85.40 72.70l5.8 -5.8M90.20 69.10l5.8 5.8M90.20 74.90l5.8 -5.8M90.20 71.70l5.8 5.8M90.20 77.50l5.8 -5.8M93.20 70.20l5.8 5.8M93.20 76.00l5.8 -5.8M95.10 72.50l5.8 5.8M95.10 78.30l5.8 -5.8M96.90 72.10l5.8 5.8M96.90 77.90l5.8 -5.8M98.00 75.10l5.8 5.8M98.00 80.90l5.8 -5.8M99.90 73.20l5.8 5.8M99.90 79.00l5.8 -5.8M102.40 75.80l5.8 5.8M102.40 81.60l5.8 -5.8M104.30 74.30l5.8 5.8M104.30 80.10l5.8 -5.8M106.50 76.50l5.8 5.8M106.50 82.30l5.8 -5.8M108.00 79.10l5.8 5.8M108.00 84.90l5.8 -5.8M109.50 76.90l5.8 5.8M109.50 82.70l5.8 -5.8M112.40 78.40l5.8 5.8M112.40 84.20l5.8 -5.8M113.50 80.60l5.8 5.8M113.50 86.40l5.8 -5.8M115.40 81.70l5.8 5.8M115.40 87.50l5.8 -5.8M118.30 79.90l5.8 5.8M118.30 85.70l5.8 -5.8M120.60 82.80l5.8 5.8M120.60 88.60l5.8 -5.8M122.10 85.80l5.8 5.8M122.10 91.60l5.8 -5.8M124.30 82.10l5.8 5.8M124.30 87.90l5.8 -5.8M126.50 85.00l5.8 5.8M126.50 90.80l5.8 -5.8M128.70 88.70l5.8 5.8M128.70 94.50l5.8 -5.8M123.60 85.10l5.8 5.8M123.60 90.90l5.8 -5.8M158.00 92.40l5.8 5.8M158.00 98.20l5.8 -5.8M159.80 97.70l5.8 5.8M159.80 103.50l5.8 -5.8M165.10 102.20l5.8 5.8M165.10 108.00l5.8 -5.8M159.80 105.70l5.8 5.8M159.80 111.50l5.8 -5.8M166.00 108.40l5.8 5.8M166.00 114.20l5.8 -5.8M161.50 112.80l5.8 5.8M161.50 118.60l5.8 -5.8M170.40 109.30l5.8 5.8M170.40 115.10l5.8 -5.8M174.80 105.70l5.8 5.8M174.80 111.50l5.8 -5.8M173.10 114.60l5.8 5.8M173.10 120.40l5.8 -5.8M177.50 112.80l5.8 5.8M177.50 118.60l5.8 -5.8M183.70 110.20l5.8 5.8M183.70 116.00l5.8 -5.8M180.20 118.10l5.8 5.8M180.20 123.90l5.8 -5.8M186.40 119.10l5.8 5.8M186.40 124.90l5.8 -5.8M195.30 116.40l5.8 5.8M195.30 122.20l5.8 -5.8M167.70 118.10l5.8 5.8M167.70 123.90l5.8 -5.8M158.90 113.30l5.8 5.8M158.90 119.10l5.8 -5.8M162.40 109.80l5.8 5.8M162.40 115.60l5.8 -5.8M166.90 112.40l5.8 5.8M166.90 118.20l5.8 -5.8M174.00 113.30l5.8 5.8M174.00 119.10l5.8 -5.8M176.60 109.80l5.8 5.8M176.60 115.60l5.8 -5.8M167.70 122.20l5.8 5.8M167.70 128.00l5.8 -5.8M158.90 116.90l5.8 5.8M158.90 122.70l5.8 -5.8M180.20 128.80l5.8 5.8M180.20 134.60l5.8 -5.8M181.90 118.60l5.8 5.8M181.90 124.40l5.8 -5.8M192.60 123.10l5.8 5.8M192.60 128.90l5.8 -5.8M191.70 126.60l5.8 5.8M191.70 132.40l5.8 -5.8M195.30 118.60l5.8 5.8M195.30 124.40l5.8 -5.8M196.10 124.80l5.8 5.8M196.10 130.60l5.8 -5.8M199.70 122.20l5.8 5.8M199.70 128.00l5.8 -5.8M195.30 137.30l5.8 5.8M195.30 143.10l5.8 -5.8M203.20 128.40l5.8 5.8M203.20 134.20l5.8 -5.8M206.80 127.50l5.8 5.8M206.80 133.30l5.8 -5.8M205.90 131.10l5.8 5.8M205.90 136.90l5.8 -5.8M210.30 123.10l5.8 5.8M210.30 128.90l5.8 -5.8M212.10 131.90l5.8 5.8M212.10 137.70l5.8 -5.8M214.80 135.50l5.8 5.8M214.80 141.30l5.8 -5.8M212.10 146.10l5.8 5.8M212.10 151.90l5.8 -5.8M215.70 140.80l5.8 5.8M215.70 146.60l5.8 -5.8M216.50 135.20l5.8 5.8M216.50 141.00l5.8 -5.8M214.80 138.70l5.8 5.8M214.80 144.50l5.8 -5.8M219.20 132.50l5.8 5.8M219.20 138.30l5.8 -5.8M227.20 133.40l5.8 5.8M227.20 139.20l5.8 -5.8M229.80 141.40l5.8 5.8M229.80 147.20l5.8 -5.8M222.70 144.90l5.8 5.8M222.70 150.70l5.8 -5.8M227.20 149.40l5.8 5.8M227.20 155.20l5.8 -5.8M213.90 148.50l5.8 5.8M213.90 154.30l5.8 -5.8M236.90 147.60l5.8 5.8M236.90 153.40l5.8 -5.8M244.00 143.20l5.8 5.8M244.00 149.00l5.8 -5.8M247.60 150.30l5.8 5.8M247.60 156.10l5.8 -5.8M260.00 152.90l5.8 5.8M260.00 158.70l5.8 -5.8M212.40 147.70l5.8 5.8M212.40 153.50l5.8 -5.8M218.60 138.00l5.8 5.8M218.60 143.80l5.8 -5.8M224.80 143.30l5.8 5.8M224.80 149.10l5.8 -5.8M230.20 158.00l5.8 5.8M230.20 163.80l5.8 -5.8M236.40 153.10l5.8 5.8M236.40 158.90l5.8 -5.8M238.20 146.00l5.8 5.8M238.20 151.80l5.8 -5.8M244.40 148.60l5.8 5.8M244.40 154.40l5.8 -5.8M246.10 150.40l5.8 5.8M246.10 156.20l5.8 -5.8M242.60 153.10l5.8 5.8M242.60 158.90l5.8 -5.8M246.10 160.20l5.8 5.8M246.10 166.00l5.8 -5.8M249.70 168.20l5.8 5.8M249.70 174.00l5.8 -5.8M251.50 169.90l5.8 5.8M251.50 175.70l5.8 -5.8M253.20 170.80l5.8 5.8M253.20 176.60l5.8 -5.8M248.80 170.80l5.8 5.8M248.80 176.60l5.8 -5.8M258.60 168.20l5.8 5.8M258.60 174.00l5.8 -5.8M256.80 172.60l5.8 5.8M256.80 178.40l5.8 -5.8M260.30 174.40l5.8 5.8M260.30 180.20l5.8 -5.8M263.00 176.10l5.8 5.8M263.00 181.90l5.8 -5.8M253.20 154.80l5.8 5.8M253.20 160.60l5.8 -5.8M255.00 145.10l5.8 5.8M255.00 150.90l5.8 -5.8M260.30 156.60l5.8 5.8M260.30 162.40l5.8 -5.8M264.80 161.90l5.8 5.8M264.80 167.70l5.8 -5.8M258.90 156.00l5.8 5.8M258.90 161.80l5.8 -5.8M260.60 169.30l5.8 5.8M260.60 175.10l5.8 -5.8M262.40 174.60l5.8 5.8M262.40 180.40l5.8 -5.8M258.90 173.70l5.8 5.8M258.90 179.50l5.8 -5.8M270.40 177.30l5.8 5.8M270.40 183.10l5.8 -5.8M271.30 180.80l5.8 5.8M271.30 186.60l5.8 -5.8M268.60 156.00l5.8 5.8M268.60 161.80l5.8 -5.8M273.10 158.60l5.8 5.8M273.10 164.40l5.8 -5.8M270.40 166.60l5.8 5.8M270.40 172.40l5.8 -5.8M276.60 176.40l5.8 5.8M276.60 182.20l5.8 -5.8M281.90 182.60l5.8 5.8M281.90 188.40l5.8 -5.8M278.40 171.90l5.8 5.8M278.40 177.70l5.8 -5.8M316.10 179.30l5.8 5.8M316.10 185.10l5.8 -5.8M325.90 185.50l5.8 5.8M325.90 191.30l5.8 -5.8M332.10 188.60l5.8 5.8M332.10 194.40l5.8 -5.8M286.00 162.40l5.8 5.8M286.00 168.20l5.8 -5.8M301.10 168.60l5.8 5.8M301.10 174.40l5.8 -5.8M323.20 207.30l5.8 5.8M323.20 213.10l5.8 -5.8M328.60 208.20l5.8 5.8M328.60 214.00l5.8 -5.8M332.10 209.90l5.8 5.8M332.10 215.70l5.8 -5.8M248.00 147.90l5.8 5.8M248.00 153.70l5.8 -5.8M142.20 105.40l5.8 5.8M142.20 111.20l5.8 -5.8M146.60 108.10l5.8 5.8M146.60 113.90l5.8 -5.8M149.30 103.60l5.8 5.8M149.30 109.40l5.8 -5.8M151.90 111.60l5.8 5.8M151.90 117.40l5.8 -5.8M153.70 106.30l5.8 5.8M153.70 112.10l5.8 -5.8M155.50 114.30l5.8 5.8M155.50 120.10l5.8 -5.8M158.20 109.80l5.8 5.8M158.20 115.60l5.8 -5.8M160.80 102.70l5.8 5.8M160.80 108.50l5.8 -5.8M165.30 121.40l5.8 5.8M165.30 127.20l5.8 -5.8M175.00 111.60l5.8 5.8M175.00 117.40l5.8 -5.8M144.80 101.90l5.8 5.8M144.80 107.70l5.8 -5.8M150.20 99.20l5.8 5.8M150.20 105.00l5.8 -5.8M156.40 101.00l5.8 5.8M156.40 106.80l5.8 -5.8M328.00 186.00l5.8 5.8M328.00 191.80l5.8 -5.8M350.20 196.60l5.8 5.8M350.20 202.40l5.8 -5.8M354.60 197.50l5.8 5.8M354.60 203.30l5.8 -5.8M364.40 205.50l5.8 5.8M364.40 211.30l5.8 -5.8M378.60 211.70l5.8 5.8M378.60 217.50l5.8 -5.8M380.30 212.60l5.8 5.8M380.30 218.40l5.8 -5.8M340.40 210.80l5.8 5.8M340.40 216.60l5.8 -5.8M338.60 204.60l5.8 5.8M338.60 210.40l5.8 -5.8M343.10 206.40l5.8 5.8M343.10 212.20l5.8 -5.8M346.60 212.60l5.8 5.8M346.60 218.40l5.8 -5.8M350.20 208.20l5.8 5.8M350.20 214.00l5.8 -5.8M353.70 209.90l5.8 5.8M353.70 215.70l5.8 -5.8M356.40 212.60l5.8 5.8M356.40 218.40l5.8 -5.8M358.20 214.40l5.8 5.8M358.20 220.20l5.8 -5.8M362.60 217.00l5.8 5.8M362.60 222.80l5.8 -5.8M367.90 216.10l5.8 5.8M367.90 221.90l5.8 -5.8M328.90 201.10l5.8 5.8M328.90 206.90l5.8 -5.8M389.90 217.50l5.8 5.8M389.90 223.30l5.8 -5.8M397.90 221.90l5.8 5.8M397.90 227.70l5.8 -5.8M405.00 225.50l5.8 5.8M405.00 231.30l5.8 -5.8M408.60 227.30l5.8 5.8M408.60 233.10l5.8 -5.8M410.30 230.80l5.8 5.8M410.30 236.60l5.8 -5.8M412.10 234.40l5.8 5.8M412.10 240.20l5.8 -5.8M414.80 236.10l5.8 5.8M414.80 241.90l5.8 -5.8M406.80 232.60l5.8 5.8M406.80 238.40l5.8 -5.8M406.90 224.50l5.8 5.8M406.90 230.30l5.8 -5.8M406.00 229.80l5.8 5.8M406.00 235.60l5.8 -5.8M417.50 236.90l5.8 5.8M417.50 242.70l5.8 -5.8M421.90 238.70l5.8 5.8M421.90 244.50l5.8 -5.8M420.20 241.40l5.8 5.8M420.20 247.20l5.8 -5.8M425.50 242.30l5.8 5.8M425.50 248.10l5.8 -5.8M434.40 241.40l5.8 5.8M434.40 247.20l5.8 -5.8M428.20 245.80l5.8 5.8M428.20 251.60l5.8 -5.8M432.60 247.60l5.8 5.8M432.60 253.40l5.8 -5.8M435.30 249.40l5.8 5.8M435.30 255.20l5.8 -5.8M439.70 252.00l5.8 5.8M439.70 257.80l5.8 -5.8M454.80 252.90l5.8 5.8M454.80 258.70l5.8 -5.8M402.40 237.80l5.8 5.8M402.40 243.60l5.8 -5.8M407.70 241.40l5.8 5.8M407.70 247.20l5.8 -5.8M413.10 244.90l5.8 5.8M413.10 250.70l5.8 -5.8M417.50 248.50l5.8 5.8M417.50 254.30l5.8 -5.8M421.90 250.30l5.8 5.8M421.90 256.10l5.8 -5.8M398.00 242.30l5.8 5.8M398.00 248.10l5.8 -5.8M462.80 268.40l5.8 5.8M462.80 274.20l5.8 -5.8M467.30 271.10l5.8 5.8M467.30 276.90l5.8 -5.8M470.80 273.70l5.8 5.8M470.80 279.50l5.8 -5.8M474.40 276.40l5.8 5.8M474.40 282.20l5.8 -5.8M477.90 273.70l5.8 5.8M477.90 279.50l5.8 -5.8M479.70 277.30l5.8 5.8M479.70 283.10l5.8 -5.8M481.50 279.90l5.8 5.8M481.50 285.70l5.8 -5.8M485.90 281.70l5.8 5.8M485.90 287.50l5.8 -5.8M489.50 283.50l5.8 5.8M489.50 289.30l5.8 -5.8M492.10 286.10l5.8 5.8M492.10 291.90l5.8 -5.8M494.80 287.00l5.8 5.8M494.80 292.80l5.8 -5.8M481.50 265.70l5.8 5.8M481.50 271.50l5.8 -5.8M455.70 273.70l5.8 5.8M455.70 279.50l5.8 -5.8M496.50 275.50l5.8 5.8M496.50 281.30l5.8 -5.8M472.60 279.10l5.8 5.8M472.60 284.90l5.8 -5.8M476.10 280.80l5.8 5.8M476.10 286.60l5.8 -5.8M483.20 284.40l5.8 5.8M483.20 290.20l5.8 -5.8M481.50 268.00l5.8 5.8M481.50 273.80l5.8 -5.8M479.80 274.20l5.8 5.8M479.80 280.00l5.8 -5.8M478.90 278.60l5.8 5.8M478.90 284.40l5.8 -5.8M482.40 282.20l5.8 5.8M482.40 288.00l5.8 -5.8M482.40 285.70l5.8 5.8M482.40 291.50l5.8 -5.8M499.30 276.90l5.8 5.8M499.30 282.70l5.8 -5.8M493.10 288.40l5.8 5.8M493.10 294.20l5.8 -5.8M494.80 290.20l5.8 5.8M494.80 296.00l5.8 -5.8M500.20 291.10l5.8 5.8M500.20 296.90l5.8 -5.8M508.20 288.40l5.8 5.8M508.20 294.20l5.8 -5.8M518.80 286.60l5.8 5.8M518.80 292.40l5.8 -5.8M507.30 293.70l5.8 5.8M507.30 299.50l5.8 -5.8M506.40 297.30l5.8 5.8M506.40 303.10l5.8 -5.8M514.40 296.40l5.8 5.8M514.40 302.20l5.8 -5.8M517.90 301.70l5.8 5.8M517.90 307.50l5.8 -5.8M522.40 304.40l5.8 5.8M522.40 310.20l5.8 -5.8M526.80 302.60l5.8 5.8M526.80 308.40l5.8 -5.8M529.50 306.10l5.8 5.8M529.50 311.90l5.8 -5.8M533.90 296.40l5.8 5.8M533.90 302.20l5.8 -5.8M534.80 306.10l5.8 5.8M534.80 311.90l5.8 -5.8M512.60 299.10l5.8 5.8M512.60 304.90l5.8 -5.8M524.10 306.10l5.8 5.8M524.10 311.90l5.8 -5.8M528.60 301.30l5.8 5.8M528.60 307.10l5.8 -5.8M528.60 310.20l5.8 5.8M528.60 316.00l5.8 -5.8M526.00 306.60l5.8 5.8M526.00 312.40l5.8 -5.8M538.40 304.80l5.8 5.8M538.40 310.60l5.8 -5.8M539.30 309.30l5.8 5.8M539.30 315.10l5.8 -5.8M541.90 312.80l5.8 5.8M541.90 318.60l5.8 -5.8M543.70 315.50l5.8 5.8M543.70 321.30l5.8 -5.8M547.30 304.80l5.8 5.8M547.30 310.60l5.8 -5.8M549.00 312.80l5.8 5.8M549.00 318.60l5.8 -5.8M551.70 314.60l5.8 5.8M551.70 320.40l5.8 -5.8M552.60 321.70l5.8 5.8M552.60 327.50l5.8 -5.8M554.40 319.00l5.8 5.8M554.40 324.80l5.8 -5.8M557.00 320.80l5.8 5.8M557.00 326.60l5.8 -5.8M562.40 313.70l5.8 5.8M562.40 319.50l5.8 -5.8M564.10 315.50l5.8 5.8M564.10 321.30l5.8 -5.8M560.60 323.50l5.8 5.8M560.60 329.30l5.8 -5.8M563.20 325.30l5.8 5.8M563.20 331.10l5.8 -5.8M566.80 324.40l5.8 5.8M566.80 330.20l5.8 -5.8M572.10 324.40l5.8 5.8M572.10 330.20l5.8 -5.8M574.80 326.10l5.8 5.8M574.80 331.90l5.8 -5.8M533.10 308.40l5.8 5.8M533.10 314.20l5.8 -5.8M541.90 318.00l5.8 5.8M541.90 323.80l5.8 -5.8M550.80 322.40l5.8 5.8M550.80 328.20l5.8 -5.8M557.90 322.40l5.8 5.8M557.90 328.20l5.8 -5.8M561.50 326.00l5.8 5.8M561.50 331.80l5.8 -5.8M565.00 327.70l5.8 5.8M565.00 333.50l5.8 -5.8M568.60 329.50l5.8 5.8M568.60 335.30l5.8 -5.8M572.10 331.30l5.8 5.8M572.10 337.10l5.8 -5.8M574.80 334.80l5.8 5.8M574.80 340.60l5.8 -5.8M572.10 322.40l5.8 5.8M572.10 328.20l5.8 -5.8M576.00 323.10l5.8 5.8M576.00 328.90l5.8 -5.8M579.50 323.10l5.8 5.8M579.50 328.90l5.8 -5.8M573.30 330.20l5.8 5.8M573.30 336.00l5.8 -5.8M576.00 332.80l5.8 5.8M576.00 338.60l5.8 -5.8M583.10 328.40l5.8 5.8M583.10 334.20l5.8 -5.8M585.70 331.10l5.8 5.8M585.70 336.90l5.8 -5.8M584.00 337.30l5.8 5.8M584.00 343.10l5.8 -5.8M588.40 339.90l5.8 5.8M588.40 345.70l5.8 -5.8M591.90 337.30l5.8 5.8M591.90 343.10l5.8 -5.8M593.70 333.70l5.8 5.8M593.70 339.50l5.8 -5.8M591.10 340.80l5.8 5.8M591.10 346.60l5.8 -5.8M596.40 343.50l5.8 5.8M596.40 349.30l5.8 -5.8M599.00 344.40l5.8 5.8M599.00 350.20l5.8 -5.8M604.40 346.10l5.8 5.8M604.40 351.90l5.8 -5.8M610.60 345.30l5.8 5.8M610.60 351.10l5.8 -5.8M596.40 346.10l5.8 5.8M596.40 351.90l5.8 -5.8M602.40 347.50l5.8 5.8M602.40 353.30l5.8 -5.8M606.00 346.60l5.8 5.8M606.00 352.40l5.8 -5.8M605.10 351.90l5.8 5.8M605.10 357.70l5.8 -5.8M613.10 350.20l5.8 5.8M613.10 356.00l5.8 -5.8M613.10 360.80l5.8 5.8M613.10 366.60l5.8 -5.8M616.60 353.70l5.8 5.8M616.60 359.50l5.8 -5.8M621.90 351.90l5.8 5.8M621.90 357.70l5.8 -5.8M621.90 362.60l5.8 5.8M621.90 368.40l5.8 -5.8M625.50 355.50l5.8 5.8M625.50 361.30l5.8 -5.8M627.30 359.00l5.8 5.8M627.30 364.80l5.8 -5.8M623.70 358.20l5.8 5.8M623.70 364.00l5.8 -5.8M632.60 362.60l5.8 5.8M632.60 368.40l5.8 -5.8M637.90 359.90l5.8 5.8M637.90 365.70l5.8 -5.8M633.50 366.10l5.8 5.8M633.50 371.90l5.8 -5.8M639.70 365.30l5.8 5.8M639.70 371.10l5.8 -5.8M645.00 366.10l5.8 5.8M645.00 371.90l5.8 -5.8M650.30 367.00l5.8 5.8M650.30 372.80l5.8 -5.8M624.60 353.70l5.8 5.8M624.60 359.50l5.8 -5.8M627.00 357.00l5.8 5.8M627.00 362.80l5.8 -5.8M623.70 361.90l5.8 5.8M623.70 367.70l5.8 -5.8M634.50 361.90l5.8 5.8M634.50 367.70l5.8 -5.8M636.90 368.50l5.8 5.8M636.90 374.30l5.8 -5.8M638.60 371.80l5.8 5.8M638.60 377.60l5.8 -5.8M641.10 366.10l5.8 5.8M641.10 371.90l5.8 -5.8M644.40 367.70l5.8 5.8M644.40 373.50l5.8 -5.8M646.80 370.20l5.8 5.8M646.80 376.00l5.8 -5.8M646.80 373.50l5.8 5.8M646.80 379.30l5.8 -5.8M650.10 368.50l5.8 5.8M650.10 374.30l5.8 -5.8M650.10 375.10l5.8 5.8M650.10 380.90l5.8 -5.8M653.40 371.80l5.8 5.8M653.40 377.60l5.8 -5.8M655.10 370.20l5.8 5.8M655.10 376.00l5.8 -5.8M656.70 374.30l5.8 5.8M656.70 380.10l5.8 -5.8M658.40 376.80l5.8 5.8M658.40 382.60l5.8 -5.8M660.00 372.70l5.8 5.8M660.00 378.50l5.8 -5.8M660.80 379.30l5.8 5.8M660.80 385.10l5.8 -5.8M663.30 376.00l5.8 5.8M663.30 381.80l5.8 -5.8M665.00 378.40l5.8 5.8M665.00 384.20l5.8 -5.8M666.60 380.10l5.8 5.8M666.60 385.90l5.8 -5.8M668.30 381.70l5.8 5.8M668.30 387.50l5.8 -5.8M669.90 383.40l5.8 5.8M669.90 389.20l5.8 -5.8M642.70 370.20l5.8 5.8M642.70 376.00l5.8 -5.8M589.30 343.00l5.8 5.8M589.30 348.80l5.8 -5.8M604.40 348.30l5.8 5.8M604.40 354.10l5.8 -5.8M605.30 353.60l5.8 5.8M605.30 359.40l5.8 -5.8M136.98 89.62l5.8 5.8M136.98 95.42l5.8 -5.8M145.90 90.01l5.8 5.8M145.90 95.81l5.8 -5.8M136.76 97.04l5.8 5.8M136.76 102.84l5.8 -5.8M143.12 100.49l5.8 5.8M143.12 106.29l5.8 -5.8M131.89 91.73l5.8 5.8M131.89 97.53l5.8 -5.8M147.06 96.45l5.8 5.8M147.06 102.25l5.8 -5.8M135.09 97.33l5.8 5.8M135.09 103.13l5.8 -5.8M141.27 93.99l5.8 5.8M141.27 99.79l5.8 -5.8M130.27 91.40l5.8 5.8M130.27 97.20l5.8 -5.8M149.95 96.34l5.8 5.8M149.95 102.14l5.8 -5.8M145.34 96.34l5.8 5.8M145.34 102.14l5.8 -5.8M135.85 88.19l5.8 5.8M135.85 93.99l5.8 -5.8M154.38 94.60l5.8 5.8M154.38 100.40l5.8 -5.8M139.10 98.78l5.8 5.8M139.10 104.58l5.8 -5.8M137.85 99.17l5.8 5.8M137.85 104.97l5.8 -5.8M130.49 85.89l5.8 5.8M130.49 91.69l5.8 -5.8M138.74 88.66l5.8 5.8M138.74 94.46l5.8 -5.8M139.97 98.63l5.8 5.8M139.97 104.43l5.8 -5.8M133.56 90.13l5.8 5.8M133.56 95.93l5.8 -5.8M131.16 92.81l5.8 5.8M131.16 98.61l5.8 -5.8M147.77 99.00l5.8 5.8M147.77 104.80l5.8 -5.8M143.65 96.97l5.8 5.8M143.65 102.77l5.8 -5.8M148.68 92.03l5.8 5.8M148.68 97.83l5.8 -5.8M134.54 87.69l5.8 5.8M134.54 93.49l5.8 -5.8M140.95 88.88l5.8 5.8M140.95 94.68l5.8 -5.8M146.39 94.00l5.8 5.8M146.39 99.80l5.8 -5.8M150.55 93.77l5.8 5.8M150.55 99.57l5.8 -5.8M137.54 96.41l5.8 5.8M137.54 102.21l5.8 -5.8M143.75 88.54l5.8 5.8M143.75 94.34l5.8 -5.8M135.34 94.36l5.8 5.8M135.34 100.16l5.8 -5.8M138.90 96.86l5.8 5.8M138.90 102.66l5.8 -5.8M135.46 88.75l5.8 5.8M135.46 94.55l5.8 -5.8M148.59 90.24l5.8 5.8M148.59 96.04l5.8 -5.8M136.95 96.45l5.8 5.8M136.95 102.25l5.8 -5.8M143.49 95.80l5.8 5.8M143.49 101.60l5.8 -5.8M138.72 101.27l5.8 5.8M138.72 107.07l5.8 -5.8M132.08 90.63l5.8 5.8M132.08 96.43l5.8 -5.8M142.92 90.56l5.8 5.8M142.92 96.36l5.8 -5.8M141.63 92.71l5.8 5.8M141.63 98.51l5.8 -5.8M141.88 89.02l5.8 5.8M141.88 94.82l5.8 -5.8M136.95 92.66l5.8 5.8M136.95 98.46l5.8 -5.8M143.32 88.52l5.8 5.8M143.32 94.32l5.8 -5.8M132.57 95.49l5.8 5.8M132.57 101.29l5.8 -5.8M129.93 92.04l5.8 5.8M129.93 97.84l5.8 -5.8M134.75 89.53l5.8 5.8M134.75 95.33l5.8 -5.8M135.37 87.04l5.8 5.8M135.37 92.84l5.8 -5.8M147.46 95.97l5.8 5.8M147.46 101.77l5.8 -5.8M146.91 97.86l5.8 5.8M146.91 103.66l5.8 -5.8M138.59 92.44l5.8 5.8M138.59 98.24l5.8 -5.8M149.62 91.01l5.8 5.8M149.62 96.81l5.8 -5.8M139.38 87.75l5.8 5.8M139.38 93.55l5.8 -5.8M137.67 92.57l5.8 5.8M137.67 98.37l5.8 -5.8M138.50 93.17l5.8 5.8M138.50 98.97l5.8 -5.8M153.72 94.93l5.8 5.8M153.72 100.73l5.8 -5.8M145.99 92.36l5.8 5.8M145.99 98.16l5.8 -5.8M138.14 101.50l5.8 5.8M138.14 107.30l5.8 -5.8M143.77 100.22l5.8 5.8M143.77 106.02l5.8 -5.8M142.83 98.66l5.8 5.8M142.83 104.46l5.8 -5.8M149.94 91.46l5.8 5.8M149.94 97.26l5.8 -5.8M135.65 98.03l5.8 5.8M135.65 103.83l5.8 -5.8M131.25 93.17l5.8 5.8M131.25 98.97l5.8 -5.8M137.06 89.65l5.8 5.8M137.06 95.45l5.8 -5.8M145.50 92.77l5.8 5.8M145.50 98.57l5.8 -5.8M142.71 99.05l5.8 5.8M142.71 104.85l5.8 -5.8M142.27 94.84l5.8 5.8M142.27 100.64l5.8 -5.8M130.83 87.36l5.8 5.8M130.83 93.16l5.8 -5.8M132.38 90.47l5.8 5.8M132.38 96.27l5.8 -5.8M142.31 91.25l5.8 5.8M142.31 97.05l5.8 -5.8M145.75 92.22l5.8 5.8M145.75 98.02l5.8 -5.8M141.02 100.81l5.8 5.8M141.02 106.61l5.8 -5.8M138.46 91.63l5.8 5.8M138.46 97.43l5.8 -5.8M142.70 95.57l5.8 5.8M142.70 101.37l5.8 -5.8M141.37 100.26l5.8 5.8M141.37 106.06l5.8 -5.8M131.00 92.43l5.8 5.8M131.00 98.23l5.8 -5.8M153.81 95.57l5.8 5.8M153.81 101.37l5.8 -5.8M140.81 92.86l5.8 5.8M140.81 98.66l5.8 -5.8M149.93 93.08l5.8 5.8M149.93 98.88l5.8 -5.8M138.44 97.81l5.8 5.8M138.44 103.61l5.8 -5.8M132.18 93.38l5.8 5.8M132.18 99.18l5.8 -5.8M150.58 90.57l5.8 5.8M150.58 96.37l5.8 -5.8M149.13 96.56l5.8 5.8M149.13 102.36l5.8 -5.8M134.65 92.96l5.8 5.8M134.65 98.76l5.8 -5.8M135.42 94.36l5.8 5.8M135.42 100.16l5.8 -5.8M137.29 97.53l5.8 5.8M137.29 103.33l5.8 -5.8M131.71 86.82l5.8 5.8M131.71 92.62l5.8 -5.8M145.18 96.17l5.8 5.8M145.18 101.97l5.8 -5.8M145.63 94.72l5.8 5.8M145.63 100.52l5.8 -5.8M153.41 92.69l5.8 5.8M153.41 98.49l5.8 -5.8M129.68 89.22l5.8 5.8M129.68 95.02l5.8 -5.8M137.94 95.20l5.8 5.8M137.94 101.00l5.8 -5.8M136.47 92.29l5.8 5.8M136.47 98.09l5.8 -5.8M134.61 97.11l5.8 5.8M134.61 102.91l5.8 -5.8M150.61 90.69l5.8 5.8M150.61 96.49l5.8 -5.8M145.28 95.04l5.8 5.8M145.28 100.84l5.8 -5.8M141.68 100.81l5.8 5.8M141.68 106.61l5.8 -5.8M144.28 90.21l5.8 5.8M144.28 96.01l5.8 -5.8M142.06 89.32l5.8 5.8M142.06 95.12l5.8 -5.8M140.94 97.83l5.8 5.8M140.94 103.63l5.8 -5.8M140.27 92.61l5.8 5.8M140.27 98.41l5.8 -5.8M141.91 91.06l5.8 5.8M141.91 96.86l5.8 -5.8M137.41 93.44l5.8 5.8M137.41 99.24l5.8 -5.8M146.39 91.60l5.8 5.8M146.39 97.40l5.8 -5.8M143.81 91.33l5.8 5.8M143.81 97.13l5.8 -5.8M135.69 88.57l5.8 5.8M135.69 94.37l5.8 -5.8M150.68 97.52l5.8 5.8M150.68 103.32l5.8 -5.8M142.84 95.34l5.8 5.8M142.84 101.14l5.8 -5.8M151.32 90.73l5.8 5.8M151.32 96.53l5.8 -5.8M140.40 88.88l5.8 5.8M140.40 94.68l5.8 -5.8M139.24 87.92l5.8 5.8M139.24 93.72l5.8 -5.8M136.12 95.71l5.8 5.8M136.12 101.51l5.8 -5.8M134.12 95.87l5.8 5.8M134.12 101.67l5.8 -5.8M149.22 95.49l5.8 5.8M149.22 101.29l5.8 -5.8M139.71 91.55l5.8 5.8M139.71 97.35l5.8 -5.8M146.29 95.05l5.8 5.8M146.29 100.85l5.8 -5.8M149.67 96.37l5.8 5.8M149.67 102.17l5.8 -5.8M131.79 87.33l5.8 5.8M131.79 93.13l5.8 -5.8M135.87 88.17l5.8 5.8M135.87 93.97l5.8 -5.8M145.68 98.06l5.8 5.8M145.68 103.86l5.8 -5.8M149.55 96.20l5.8 5.8M149.55 102.00l5.8 -5.8M129.10 90.41l5.8 5.8M129.10 96.21l5.8 -5.8M148.17 97.56l5.8 5.8M148.17 103.36l5.8 -5.8M146.91 91.98l5.8 5.8M146.91 97.78l5.8 -5.8M140.85 97.31l5.8 5.8M140.85 103.11l5.8 -5.8M143.14 88.75l5.8 5.8M143.14 94.55l5.8 -5.8M139.73 100.52l5.8 5.8M139.73 106.32l5.8 -5.8M129.57 86.06l5.8 5.8M129.57 91.86l5.8 -5.8M140.75 99.92l5.8 5.8M140.75 105.72l5.8 -5.8M141.03 90.59l5.8 5.8M141.03 96.39l5.8 -5.8M142.04 99.71l5.8 5.8M142.04 105.51l5.8 -5.8M134.95 91.83l5.8 5.8M134.95 97.63l5.8 -5.8M148.50 96.43l5.8 5.8M148.50 102.23l5.8 -5.8M141.67 91.32l5.8 5.8M141.67 97.12l5.8 -5.8M134.42 94.71l5.8 5.8M134.42 100.51l5.8 -5.8M149.41 90.90l5.8 5.8M149.41 96.70l5.8 -5.8M129.30 87.27l5.8 5.8M129.30 93.07l5.8 -5.8M138.63 97.90l5.8 5.8M138.63 103.70l5.8 -5.8M137.83 87.51l5.8 5.8M137.83 93.31l5.8 -5.8M144.09 89.99l5.8 5.8M144.09 95.79l5.8 -5.8M141.95 92.58l5.8 5.8M141.95 98.38l5.8 -5.8M137.31 91.29l5.8 5.8M137.31 97.09l5.8 -5.8M151.16 96.85l5.8 5.8M151.16 102.65l5.8 -5.8M143.12 92.20l5.8 5.8M143.12 98.00l5.8 -5.8M141.11 99.97l5.8 5.8M141.11 105.77l5.8 -5.8M142.42 89.42l5.8 5.8M142.42 95.22l5.8 -5.8M140.60 90.01l5.8 5.8M140.60 95.81l5.8 -5.8M144.38 94.79l5.8 5.8M144.38 100.59l5.8 -5.8M140.45 93.48l5.8 5.8M140.45 99.28l5.8 -5.8M138.05 88.68l5.8 5.8M138.05 94.48l5.8 -5.8M136.31 92.79l5.8 5.8M136.31 98.59l5.8 -5.8M133.76 91.00l5.8 5.8M133.76 96.80l5.8 -5.8M142.25 88.60l5.8 5.8M142.25 94.40l5.8 -5.8M144.06 89.23l5.8 5.8M144.06 95.03l5.8 -5.8M135.25 93.79l5.8 5.8M135.25 99.59l5.8 -5.8M133.40 97.14l5.8 5.8M133.40 102.94l5.8 -5.8M131.09 90.26l5.8 5.8M131.09 96.06l5.8 -5.8M146.63 95.30l5.8 5.8M146.63 101.10l5.8 -5.8M141.53 88.11l5.8 5.8M141.53 93.91l5.8 -5.8M134.73 96.43l5.8 5.8M134.73 102.23l5.8 -5.8M140.33 90.42l5.8 5.8M140.33 96.22l5.8 -5.8M128.10 85.86l5.8 5.8M128.10 91.66l5.8 -5.8M152.91 91.96l5.8 5.8M152.91 97.76l5.8 -5.8M143.22 89.32l5.8 5.8M143.22 95.12l5.8 -5.8M147.27 94.25l5.8 5.8M147.27 100.05l5.8 -5.8M136.66 93.84l5.8 5.8M136.66 99.64l5.8 -5.8M133.01 92.05l5.8 5.8M133.01 97.85l5.8 -5.8M145.92 97.51l5.8 5.8M145.92 103.31l5.8 -5.8M133.33 90.28l5.8 5.8M133.33 96.08l5.8 -5.8M131.53 88.74l5.8 5.8M131.53 94.54l5.8 -5.8M131.58 89.57l5.8 5.8M131.58 95.37l5.8 -5.8M139.31 88.37l5.8 5.8M139.31 94.17l5.8 -5.8M140.47 100.56l5.8 5.8M140.47 106.36l5.8 -5.8M149.93 97.50l5.8 5.8M149.93 103.30l5.8 -5.8M142.14 96.51l5.8 5.8M142.14 102.31l5.8 -5.8M136.33 93.98l5.8 5.8M136.33 99.78l5.8 -5.8M152.80 93.48l5.8 5.8M152.80 99.28l5.8 -5.8M138.32 95.96l5.8 5.8M138.32 101.76l5.8 -5.8M137.09 87.34l5.8 5.8M137.09 93.14l5.8 -5.8M129.38 89.43l5.8 5.8M129.38 95.23l5.8 -5.8M136.62 88.09l5.8 5.8M136.62 93.89l5.8 -5.8M129.12 87.09l5.8 5.8M129.12 92.89l5.8 -5.8M289.84 173.11l5.8 5.8M289.84 178.91l5.8 -5.8M287.91 174.34l5.8 5.8M287.91 180.14l5.8 -5.8M286.31 186.40l5.8 5.8M286.31 192.20l5.8 -5.8M299.76 176.13l5.8 5.8M299.76 181.93l5.8 -5.8M304.22 190.17l5.8 5.8M304.22 195.97l5.8 -5.8M306.28 188.56l5.8 5.8M306.28 194.36l5.8 -5.8M288.18 170.08l5.8 5.8M288.18 175.88l5.8 -5.8M317.39 198.60l5.8 5.8M317.39 204.40l5.8 -5.8M322.65 203.98l5.8 5.8M322.65 209.78l5.8 -5.8M306.06 189.13l5.8 5.8M306.06 194.93l5.8 -5.8M312.33 196.87l5.8 5.8M312.33 202.67l5.8 -5.8M291.60 171.54l5.8 5.8M291.60 177.34l5.8 -5.8M299.40 182.08l5.8 5.8M299.40 187.88l5.8 -5.8M296.13 182.98l5.8 5.8M296.13 188.78l5.8 -5.8M306.47 197.98l5.8 5.8M306.47 203.78l5.8 -5.8M285.70 185.97l5.8 5.8M285.70 191.77l5.8 -5.8M284.08 176.59l5.8 5.8M284.08 182.39l5.8 -5.8M312.33 197.68l5.8 5.8M312.33 203.48l5.8 -5.8M293.05 172.65l5.8 5.8M293.05 178.45l5.8 -5.8M293.02 181.52l5.8 5.8M293.02 187.32l5.8 -5.8M298.18 189.90l5.8 5.8M298.18 195.70l5.8 -5.8M308.78 187.26l5.8 5.8M308.78 193.06l5.8 -5.8M301.57 181.78l5.8 5.8M301.57 187.58l5.8 -5.8M292.15 172.50l5.8 5.8M292.15 178.30l5.8 -5.8M313.64 196.25l5.8 5.8M313.64 202.05l5.8 -5.8M301.83 179.50l5.8 5.8M301.83 185.30l5.8 -5.8M303.56 185.80l5.8 5.8M303.56 191.60l5.8 -5.8M283.66 174.86l5.8 5.8M283.66 180.66l5.8 -5.8M293.85 183.84l5.8 5.8M293.85 189.64l5.8 -5.8M290.93 182.21l5.8 5.8M290.93 188.01l5.8 -5.8M294.45 173.00l5.8 5.8M294.45 178.80l5.8 -5.8M313.88 192.95l5.8 5.8M313.88 198.75l5.8 -5.8M292.11 184.96l5.8 5.8M292.11 190.76l5.8 -5.8M293.33 180.77l5.8 5.8M293.33 186.57l5.8 -5.8M299.60 193.65l5.8 5.8M299.60 199.45l5.8 -5.8M285.30 183.34l5.8 5.8M285.30 189.14l5.8 -5.8M288.90 188.90l5.8 5.8M288.90 194.70l5.8 -5.8M292.57 174.61l5.8 5.8M292.57 180.41l5.8 -5.8M307.05 197.13l5.8 5.8M307.05 202.93l5.8 -5.8M298.67 175.61l5.8 5.8M298.67 181.41l5.8 -5.8M305.99 187.52l5.8 5.8M305.99 193.32l5.8 -5.8M297.62 179.50l5.8 5.8M297.62 185.30l5.8 -5.8M296.10 180.06l5.8 5.8M296.10 185.86l5.8 -5.8M316.26 197.46l5.8 5.8M316.26 203.26l5.8 -5.8M289.60 178.19l5.8 5.8M289.60 183.99l5.8 -5.8M304.86 186.43l5.8 5.8M304.86 192.23l5.8 -5.8M285.01 179.98l5.8 5.8M285.01 185.78l5.8 -5.8M306.47 197.09l5.8 5.8M306.47 202.89l5.8 -5.8M317.31 201.37l5.8 5.8M317.31 207.17l5.8 -5.8M284.18 179.65l5.8 5.8M284.18 185.45l5.8 -5.8M298.51 178.89l5.8 5.8M298.51 184.69l5.8 -5.8M324.87 200.79l5.8 5.8M324.87 206.59l5.8 -5.8M298.50 184.98l5.8 5.8M298.50 190.78l5.8 -5.8M296.89 181.07l5.8 5.8M296.89 186.87l5.8 -5.8M295.17 189.62l5.8 5.8M295.17 195.42l5.8 -5.8M303.56 182.83l5.8 5.8M303.56 188.63l5.8 -5.8M297.21 175.45l5.8 5.8M297.21 181.25l5.8 -5.8M297.42 174.36l5.8 5.8M297.42 180.16l5.8 -5.8M304.75 194.94l5.8 5.8M304.75 200.74l5.8 -5.8M298.02 193.28l5.8 5.8M298.02 199.08l5.8 -5.8M299.12 184.92l5.8 5.8M299.12 190.72l5.8 -5.8M321.03 195.58l5.8 5.8M321.03 201.38l5.8 -5.8M285.25 181.43l5.8 5.8M285.25 187.23l5.8 -5.8M285.78 185.36l5.8 5.8M285.78 191.16l5.8 -5.8M299.43 180.12l5.8 5.8M299.43 185.92l5.8 -5.8M324.25 201.99l5.8 5.8M324.25 207.79l5.8 -5.8M297.76 179.04l5.8 5.8M297.76 184.84l5.8 -5.8M290.85 176.27l5.8 5.8M290.85 182.07l5.8 -5.8M304.15 196.22l5.8 5.8M304.15 202.02l5.8 -5.8M318.60 194.42l5.8 5.8M318.60 200.22l5.8 -5.8M286.08 180.81l5.8 5.8M286.08 186.61l5.8 -5.8M287.80 181.14l5.8 5.8M287.80 186.94l5.8 -5.8M284.55 181.59l5.8 5.8M284.55 187.39l5.8 -5.8M316.73 195.43l5.8 5.8M316.73 201.23l5.8 -5.8M319.31 197.47l5.8 5.8M319.31 203.27l5.8 -5.8M322.61 196.66l5.8 5.8M322.61 202.46l5.8 -5.8M321.53 197.83l5.8 5.8M321.53 203.63l5.8 -5.8M291.47 183.69l5.8 5.8M291.47 189.49l5.8 -5.8M285.79 178.28l5.8 5.8M285.79 184.08l5.8 -5.8M306.54 195.81l5.8 5.8M306.54 201.61l5.8 -5.8M290.76 185.43l5.8 5.8M290.76 191.23l5.8 -5.8M292.98 176.56l5.8 5.8M292.98 182.36l5.8 -5.8M290.60 170.39l5.8 5.8M290.60 176.19l5.8 -5.8M282.50 182.30l5.8 5.8M282.50 188.10l5.8 -5.8M290.43 187.23l5.8 5.8M290.43 193.03l5.8 -5.8M305.62 182.31l5.8 5.8M305.62 188.11l5.8 -5.8M300.58 178.61l5.8 5.8M300.58 184.41l5.8 -5.8M285.70 174.81l5.8 5.8M285.70 180.61l5.8 -5.8M308.96 198.79l5.8 5.8M308.96 204.59l5.8 -5.8M302.15 186.00l5.8 5.8M302.15 191.80l5.8 -5.8M319.51 195.72l5.8 5.8M319.51 201.52l5.8 -5.8M303.51 187.75l5.8 5.8M303.51 193.55l5.8 -5.8M351.92 214.16l5.8 5.8M351.92 219.96l5.8 -5.8M389.45 229.59l5.8 5.8M389.45 235.39l5.8 -5.8M372.44 222.22l5.8 5.8M372.44 228.02l5.8 -5.8M372.82 224.27l5.8 5.8M372.82 230.07l5.8 -5.8M360.84 215.14l5.8 5.8M360.84 220.94l5.8 -5.8M361.66 218.45l5.8 5.8M361.66 224.25l5.8 -5.8M359.99 217.93l5.8 5.8M359.99 223.73l5.8 -5.8M359.28 215.57l5.8 5.8M359.28 221.37l5.8 -5.8M370.66 215.84l5.8 5.8M370.66 221.64l5.8 -5.8M338.29 201.92l5.8 5.8M338.29 207.72l5.8 -5.8M381.50 222.01l5.8 5.8M381.50 227.81l5.8 -5.8M369.37 220.76l5.8 5.8M369.37 226.56l5.8 -5.8M349.65 206.32l5.8 5.8M349.65 212.12l5.8 -5.8M353.72 215.09l5.8 5.8M353.72 220.89l5.8 -5.8M352.48 207.00l5.8 5.8M352.48 212.80l5.8 -5.8M377.05 223.94l5.8 5.8M377.05 229.74l5.8 -5.8M342.96 203.96l5.8 5.8M342.96 209.76l5.8 -5.8M380.59 223.00l5.8 5.8M380.59 228.80l5.8 -5.8M335.75 206.60l5.8 5.8M335.75 212.40l5.8 -5.8M359.35 212.60l5.8 5.8M359.35 218.40l5.8 -5.8M336.77 201.66l5.8 5.8M336.77 207.46l5.8 -5.8M351.32 209.59l5.8 5.8M351.32 215.39l5.8 -5.8M370.39 218.96l5.8 5.8M370.39 224.76l5.8 -5.8M359.92 213.77l5.8 5.8M359.92 219.57l5.8 -5.8M347.38 212.80l5.8 5.8M347.38 218.60l5.8 -5.8M387.16 224.84l5.8 5.8M387.16 230.64l5.8 -5.8M341.44 208.81l5.8 5.8M341.44 214.61l5.8 -5.8M356.46 214.38l5.8 5.8M356.46 220.18l5.8 -5.8M367.54 215.11l5.8 5.8M367.54 220.91l5.8 -5.8M341.78 207.70l5.8 5.8M341.78 213.50l5.8 -5.8M449.23 258.39l5.8 5.8M449.23 264.19l5.8 -5.8M420.47 247.36l5.8 5.8M420.47 253.16l5.8 -5.8M447.62 259.82l5.8 5.8M447.62 265.62l5.8 -5.8M440.12 254.91l5.8 5.8M440.12 260.71l5.8 -5.8M405.29 230.21l5.8 5.8M405.29 236.01l5.8 -5.8M405.31 231.18l5.8 5.8M405.31 236.98l5.8 -5.8M438.31 255.02l5.8 5.8M438.31 260.82l5.8 -5.8M437.40 250.11l5.8 5.8M437.40 255.91l5.8 -5.8M447.40 255.24l5.8 5.8M447.40 261.04l5.8 -5.8M441.57 257.74l5.8 5.8M441.57 263.54l5.8 -5.8M404.79 238.95l5.8 5.8M404.79 244.75l5.8 -5.8M445.33 262.20l5.8 5.8M445.33 268.00l5.8 -5.8M407.29 239.50l5.8 5.8M407.29 245.30l5.8 -5.8M439.74 255.18l5.8 5.8M439.74 260.98l5.8 -5.8M456.83 266.45l5.8 5.8M456.83 272.25l5.8 -5.8M399.95 228.87l5.8 5.8M399.95 234.67l5.8 -5.8M457.75 259.95l5.8 5.8M457.75 265.75l5.8 -5.8M401.42 229.86l5.8 5.8M401.42 235.66l5.8 -5.8M454.98 262.15l5.8 5.8M454.98 267.95l5.8 -5.8M406.40 230.47l5.8 5.8M406.40 236.27l5.8 -5.8M453.17 260.29l5.8 5.8M453.17 266.09l5.8 -5.8M448.22 257.62l5.8 5.8M448.22 263.42l5.8 -5.8M448.25 256.31l5.8 5.8M448.25 262.11l5.8 -5.8M435.76 255.30l5.8 5.8M435.76 261.10l5.8 -5.8M454.15 265.33l5.8 5.8M454.15 271.13l5.8 -5.8M454.76 262.23l5.8 5.8M454.76 268.03l5.8 -5.8M408.29 238.62l5.8 5.8M408.29 244.42l5.8 -5.8M454.78 263.73l5.8 5.8M454.78 269.53l5.8 -5.8M406.56 231.53l5.8 5.8M406.56 237.33l5.8 -5.8M429.55 252.28l5.8 5.8M429.55 258.08l5.8 -5.8M446.59 258.88l5.8 5.8M446.59 264.68l5.8 -5.8M421.01 240.12l5.8 5.8M421.01 245.92l5.8 -5.8M406.15 240.02l5.8 5.8M406.15 245.82l5.8 -5.8M425.70 249.75l5.8 5.8M425.70 255.55l5.8 -5.8M402.25 233.53l5.8 5.8M402.25 239.33l5.8 -5.8M423.71 241.46l5.8 5.8M423.71 247.26l5.8 -5.8M424.42 244.79l5.8 5.8M424.42 250.59l5.8 -5.8M421.32 241.37l5.8 5.8M421.32 247.17l5.8 -5.8M419.98 237.95l5.8 5.8M419.98 243.75l5.8 -5.8M435.49 247.99l5.8 5.8M435.49 253.79l5.8 -5.8M423.42 244.85l5.8 5.8M423.42 250.65l5.8 -5.8M405.04 239.08l5.8 5.8M405.04 244.88l5.8 -5.8M440.41 252.37l5.8 5.8M440.41 258.17l5.8 -5.8M408.31 240.38l5.8 5.8M408.31 246.18l5.8 -5.8M440.87 252.79l5.8 5.8M440.87 258.59l5.8 -5.8M434.94 248.17l5.8 5.8M434.94 253.97l5.8 -5.8M443.74 261.28l5.8 5.8M443.74 267.08l5.8 -5.8M427.06 247.16l5.8 5.8M427.06 252.96l5.8 -5.8M447.16 257.14l5.8 5.8M447.16 262.94l5.8 -5.8M411.97 237.03l5.8 5.8M411.97 242.83l5.8 -5.8M448.88 257.02l5.8 5.8M448.88 262.82l5.8 -5.8M458.78 261.38l5.8 5.8M458.78 267.18l5.8 -5.8M441.89 253.20l5.8 5.8M441.89 259.00l5.8 -5.8M438.70 251.11l5.8 5.8M438.70 256.91l5.8 -5.8M451.41 256.34l5.8 5.8M451.41 262.14l5.8 -5.8M450.16 255.72l5.8 5.8M450.16 261.52l5.8 -5.8M455.12 263.98l5.8 5.8M455.12 269.78l5.8 -5.8M438.22 254.05l5.8 5.8M438.22 259.85l5.8 -5.8M443.91 259.15l5.8 5.8M443.91 264.95l5.8 -5.8M452.81 258.33l5.8 5.8M452.81 264.13l5.8 -5.8M458.81 266.19l5.8 5.8M458.81 271.99l5.8 -5.8M439.47 259.76l5.8 5.8M439.47 265.56l5.8 -5.8M456.16 260.36l5.8 5.8M456.16 266.16l5.8 -5.8M436.72 253.80l5.8 5.8M436.72 259.60l5.8 -5.8M439.02 259.28l5.8 5.8M439.02 265.08l5.8 -5.8M455.58 261.35l5.8 5.8M455.58 267.15l5.8 -5.8M441.44 252.57l5.8 5.8M441.44 258.37l5.8 -5.8M437.75 254.05l5.8 5.8M437.75 259.85l5.8 -5.8M440.95 258.96l5.8 5.8M440.95 264.76l5.8 -5.8M447.63 260.37l5.8 5.8M447.63 266.17l5.8 -5.8M444.84 261.69l5.8 5.8M444.84 267.49l5.8 -5.8M438.68 257.48l5.8 5.8M438.68 263.28l5.8 -5.8" fill="none" stroke="#00f" stroke-width="1.2"/>
<line x1="56.74" y1="48.18" x2="677.01" y2="389.55" stroke="#00f" stroke-width="1.5" stroke-dasharray="5.55 2.4"/>
</g>
<rect x="56.5" y="1.6" width="620.9" height="439.04999999999995" fill="none" stroke="#000" stroke-width="0.8"/>
<g stroke="#000" stroke-width="0.8">
<line x1="56.74" y1="440.65" x2="56.74" y2="444.15"/>
<line x1="134.27" y1="440.65" x2="134.27" y2="444.15"/>
<line x1="211.81" y1="440.65" x2="211.81" y2="444.15"/>
<line x1="289.34" y1="440.65" x2="289.34" y2="444.15"/>
<line x1="366.88" y1="440.65" x2="366.88" y2="444.15"/>
<line x1="444.41" y1="440.65" x2="444.41" y2="444.15"/>
<line x1="521.94" y1="440.65" x2="521.94" y2="444.15"/>
<line x1="599.48" y1="440.65" x2="599.48" y2="444.15"/>
<line x1="677.01" y1="440.65" x2="677.01" y2="444.15"/>
<line x1="56.5" y1="21.32" x2="53.0" y2="21.32"/>
<line x1="56.5" y1="72.35" x2="53.0" y2="72.35"/>
<line x1="56.5" y1="123.38" x2="53.0" y2="123.38"/>
<line x1="56.5" y1="174.41" x2="53.0" y2="174.41"/>
<line x1="56.5" y1="225.44" x2="53.0" y2="225.44"/>
<line x1="56.5" y1="276.47" x2="53.0" y2="276.47"/>
<line x1="56.5" y1="327.50" x2="53.0" y2="327.50"/>
<line x1="56.5" y1="378.53" x2="53.0" y2="378.53"/>
<line x1="56.5" y1="429.56" x2="53.0" y2="429.56"/>
</g><g stroke="#000" stroke-width="0.6">
<line x1="72.24" y1="440.65" x2="72.24" y2="442.65"/>
<line x1="87.75" y1="440.65" x2="87.75" y2="442.65"/>
<line x1="103.26" y1="440.65" x2="103.26" y2="442.65"/>
<line x1="118.76" y1="440.65" x2="118.76" y2="442.65"/>
<line x1="149.78" y1="440.65" x2="149.78" y2="442.65"/>
<line x1="165.28" y1="440.65" x2="165.28" y2="442.65"/>
<line x1="180.79" y1="440.65" x2="180.79" y2="442.65"/>
<line x1="196.30" y1="440.65" x2="196.30" y2="442.65"/>
<line x1="227.31" y1="440.65" x2="227.31" y2="442.65"/>
<line x1="242.82" y1="440.65" x2="242.82" y2="442.65"/>
<line x1="258.33" y1="440.65" x2="258.33" y2="442.65"/>
<line x1="273.83" y1="440.65" x2="273.83" y2="442.65"/>
<line x1="304.85" y1="440.65" x2="304.85" y2="442.65"/>
<line x1="320.35" y1="440.65" x2="320.35" y2="442.65"/>
<line x1="335.86" y1="440.65" x2="335.86" y2="442.65"/>
<line x1="351.37" y1="440.65" x2="351.37" y2="442.65"/>
<line x1="382.38" y1="440.65" x2="382.38" y2="442.65"/>
<line x1="397.89" y1="440.65" x2="397.89" y2="442.65"/>
<line x1="413.40" y1="440.65" x2="413.40" y2="442.65"/>
<line x1="428.90" y1="440.65" x2="428.90" y2="442.65"/>
<line x1="459.92" y1="440.65" x2="459.92" y2="442.65"/>
<line x1="475.42" y1="440.65" x2="475.42" y2="442.65"/>
<line x1="490.93" y1="440.65" x2="490.93" y2="442.65"/>
<line x1="506.44" y1="440.65" x2="506.44" y2="442.65"/>
<line x1="537.45" y1="440.65" x2="537.45" y2="442.65"/>
<line x1="552.96" y1="440.65" x2="552.96" y2="442.65"/>
<line x1="568.47" y1="440.65" x2="568.47" y2="442.65"/>
<line x1="583.97" y1="440.65" x2="583.97" y2="442.65"/>
<line x1="614.99" y1="440.65" x2="614.99" y2="442.65"/>
<line x1="630.49" y1="440.65" x2="630.49" y2="442.65"/>
<line x1="646.00" y1="440.65" x2="646.00" y2="442.65"/>
<line x1="661.51" y1="440.65" x2="661.51" y2="442.65"/>
<line x1="56.5" y1="439.77" x2="54.5" y2="439.77"/>
<line x1="56.5" y1="419.35" x2="54.5" y2="419.35"/>
<line x1="56.5" y1="409.15" x2="54.5" y2="409.15"/>
<line x1="56.5" y1="398.94" x2="54.5" y2="398.94"/>
<line x1="56.5" y1="388.74" x2="54.5" y2="388.74"/>
<line x1="56.5" y1="368.32" x2="54.5" y2="368.32"/>
<line x1="56.5" y1="358.12" x2="54.5" y2="358.12"/>
<line x1="56.5" y1="347.91" x2="54.5" y2="347.91"/>
<line x1="56.5" y1="337.71" x2="54.5" y2="337.71"/>
<line x1="56.5" y1="317.29" x2="54.5" y2="317.29"/>
<line x1="56.5" y1="307.09" x2="54.5" y2="307.09"/>
<line x1="56.5" y1="296.88" x2="54.5" y2="296.88"/>
<line x1="56.5" y1="286.68" x2="54.5" y2="286.68"/>
<line x1="56.5" y1="266.26" x2="54.5" y2="266.26"/>
<line x1="56.5" y1="256.06" x2="54.5" y2="256.06"/>
<line x1="56.5" y1="245.85" x2="54.5" y2="245.85"/>
<line x1="56.5" y1="235.65" x2="54.5" y2="235.65"/>
<line x1="56.5" y1="215.23" x2="54.5" y2="215.23"/>
<line x1="56.5" y1="205.03" x2="54.5" y2="205.03"/>
<line x1="56.5" y1="194.82" x2="54.5" y2="194.82"/>
<line x1="56.5" y1="184.62" x2="54.5" y2="184.62"/>
<line x1="56.5" y1="164.20" x2="54.5" y2="164.20"/>
<line x1="56.5" y1="154.00" x2="54.5" y2="154.00"/>
<line x1="56.5" y1="143.79" x2="54.5" y2="143.79"/>
<line x1="56.5" y1="133.59" x2="54.5" y2="133.59"/>
<line x1="56.5" y1="113.17" x2="54.5" y2="113.17"/>
<line x1="56.5" y1="102.97" x2="54.5" y2="102.97"/>
<line x1="56.5" y1="92.76" x2="54.5" y2="92.76"/>
<line x1="56.5" y1="82.56" x2="54.5" y2="82.56"/>
<line x1="56.5" y1="62.14" x2="54.5" y2="62.14"/>
<line x1="56.5" y1="51.94" x2="54.5" y2="51.94"/>
<line x1="56.5" y1="41.73" x2="54.5" y2="41.73"/>
<line x1="56.5" y1="31.53" x2="54.5" y2="31.53"/>
<line x1="56.5" y1="11.11" x2="54.5" y2="11.11"/>
</g>
<text x="44.35" y="455.70" font-size="10.30" textLength="24.77" lengthAdjust="spacingAndGlyphs">−0.5</text>
<text x="126.16" y="455.70" font-size="10.30" textLength="16.22" lengthAdjust="spacingAndGlyphs">0.0</text>
<text x="203.69" y="455.70" font-size="10.30" textLength="16.22" lengthAdjust="spacingAndGlyphs">0.5</text>
<text x="281.23" y="455.70" font-size="10.30" textLength="16.22" lengthAdjust="spacingAndGlyphs">1.0</text>
<text x="358.76" y="455.70" font-size="10.30" textLength="16.22" lengthAdjust="spacingAndGlyphs">1.5</text>
<text x="436.30" y="455.70" font-size="10.30" textLength="16.22" lengthAdjust="spacingAndGlyphs">2.0</text>
<text x="513.83" y="455.70" font-size="10.30" textLength="16.22" lengthAdjust="spacingAndGlyphs">2.5</text>
<text x="591.37" y="455.70" font-size="10.30" textLength="16.22" lengthAdjust="spacingAndGlyphs">3.0</text>
<text x="668.90" y="455.70" font-size="10.30" textLength="16.22" lengthAdjust="spacingAndGlyphs">3.5</text>
<text x="23.53" y="25.32" font-size="10.30" textLength="26.21" lengthAdjust="spacingAndGlyphs">1000</text>
<text x="43.19" y="76.35" font-size="10.30" textLength="6.55" lengthAdjust="spacingAndGlyphs">0</text>
<text x="14.90" y="127.38" font-size="10.30" textLength="34.84" lengthAdjust="spacingAndGlyphs">−1000</text>
<text x="14.90" y="178.41" font-size="10.30" textLength="34.84" lengthAdjust="spacingAndGlyphs">−2000</text>
<text x="14.90" y="229.44" font-size="10.30" textLength="34.84" lengthAdjust="spacingAndGlyphs">−3000</text>
<text x="14.90" y="280.47" font-size="10.30" textLength="34.84" lengthAdjust="spacingAndGlyphs">−4000</text>
<text x="14.90" y="331.50" font-size="10.30" textLength="34.84" lengthAdjust="spacingAndGlyphs">−5000</text>
<text x="14.90" y="382.53" font-size="10.30" textLength="34.84" lengthAdjust="spacingAndGlyphs">−6000</text>
<text x="14.90" y="433.56" font-size="10.30" textLength="34.84" lengthAdjust="spacingAndGlyphs">−7000</text>
<text x="323.40" y="470.00" font-size="10.30" textLength="62.80" lengthAdjust="spacingAndGlyphs">Load Factor </text>
<text x="386.19" y="470.00" font-size="10.30" font-style="italic" textLength="7.57" lengthAdjust="spacingAndGlyphs">N</text>
<text x="393.76" y="471.30" font-size="7.21" font-style="italic" textLength="3.72" lengthAdjust="spacingAndGlyphs">z</text>
<text x="397.76" y="470.00" font-size="10.30" textLength="12.86" lengthAdjust="spacingAndGlyphs">, g</text>
<g transform="translate(8.6,264.6) rotate(-90)"><text x="0.00" y="0.00" font-size="10.30" textLength="63.82" lengthAdjust="spacingAndGlyphs">Shear Force </text><text x="63.83" y="0.00" font-size="10.30" font-style="italic" textLength="5.82" lengthAdjust="spacingAndGlyphs">F</text><text x="69.65" y="1.30" font-size="7.21" font-style="italic" textLength="3.72" lengthAdjust="spacingAndGlyphs">z</text><text x="73.64" y="0.00" font-size="10.30" textLength="14.00" lengthAdjust="spacingAndGlyphs">, N</text></g>
<rect x="329.8" y="6.6" width="342.10" height="66.40" rx="2" ry="2" fill="#fff" fill-opacity="0.8" stroke="#ccc" stroke-opacity="0.8" stroke-width="1"/>
<path d="M346.95 14.55a2.95 2.95 0 1 0 -5.9 0a2.95 2.95 0 1 0 5.9 0" fill="none" stroke="#f00" stroke-width="1.15"/>
<line x1="333.6" y1="31.4" x2="354.2" y2="31.4" stroke="#f00" stroke-width="1.5" stroke-dasharray="9.6 2.4 1.5 2.4"/>
<path d="M341.1 44.2l5.8 5.8M341.1 50l5.8 -5.8" fill="none" stroke="#00f" stroke-width="1.2"/>
<line x1="333.6" y1="63.1" x2="354.2" y2="63.1" stroke="#00f" stroke-width="1.5" stroke-dasharray="5.55 2.4"/>
<text x="362.40" y="19.00" font-size="10.30" textLength="66.17" lengthAdjust="spacingAndGlyphs">Strain Gauge</text>
<text x="362.40" y="50.30" font-size="10.30" textLength="129.63" lengthAdjust="spacingAndGlyphs">MEMS - Polynomial Fitting</text>
<text x="362.20" y="34.80" font-size="10.30" textLength="187.47" lengthAdjust="spacingAndGlyphs">Linear Fit: y = -1956.62 * x +  17.35,</text>
<text x="553.00" y="34.80" font-size="10.30" font-style="italic" textLength="12.03" lengthAdjust="spacingAndGlyphs">SE</text>
<text x="567.00" y="34.80" font-size="10.30" textLength="7.54" lengthAdjust="spacingAndGlyphs">=</text>
<text x="577.57" y="34.80" font-size="10.30" textLength="25.95" lengthAdjust="spacingAndGlyphs">2.94,</text>
<text x="607.70" y="34.80" font-size="10.30" font-style="italic" textLength="7.09" lengthAdjust="spacingAndGlyphs">R</text>
<text x="615.30" y="31.20" font-size="7.93" textLength="5.00" lengthAdjust="spacingAndGlyphs">2</text>
<text x="621.80" y="34.80" font-size="10.30" textLength="7.54" lengthAdjust="spacingAndGlyphs">=</text>
<text x="632.44" y="34.80" font-size="10.30" textLength="29.20" lengthAdjust="spacingAndGlyphs">0.999</text>
<text x="362.20" y="66.90" font-size="10.30" textLength="195.17" lengthAdjust="spacingAndGlyphs">Linear Fit: y = -1672.38 * x + -362.60,</text>
<text x="560.30" y="66.90" font-size="10.30" font-style="italic" textLength="12.03" lengthAdjust="spacingAndGlyphs">SE</text>
<text x="575.10" y="66.90" font-size="10.30" textLength="7.54" lengthAdjust="spacingAndGlyphs">=</text>
<text x="584.93" y="66.90" font-size="10.30" textLength="25.95" lengthAdjust="spacingAndGlyphs">5.41,</text>
<text x="614.10" y="66.90" font-size="10.30" font-style="italic" textLength="7.09" lengthAdjust="spacingAndGlyphs">R</text>
<text x="622.10" y="63.30" font-size="7.93" textLength="5.00" lengthAdjust="spacingAndGlyphs">2</text>
<text x="628.00" y="66.90" font-size="10.30" textLength="7.54" lengthAdjust="spacingAndGlyphs">=</text>
<text x="638.84" y="66.90" font-size="10.30" textLength="29.20" lengthAdjust="spacingAndGlyphs">0.996</text>
</svg></body></html>
